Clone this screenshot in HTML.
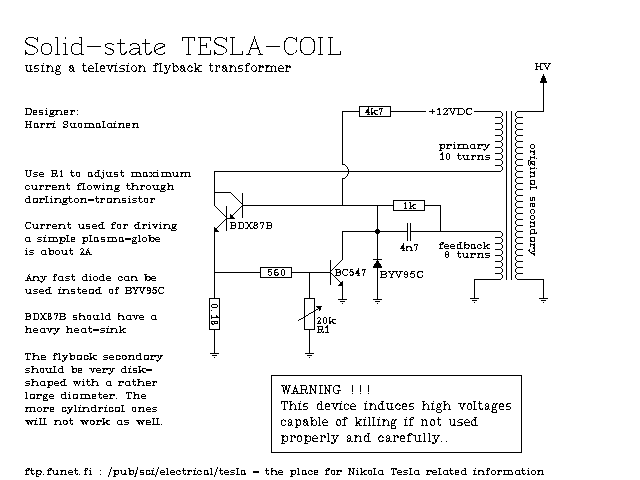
<!DOCTYPE html>
<html lang="en"><head><meta charset="utf-8"><title>Solid-state TESLA-COIL</title>
<style>html,body{margin:0;padding:0;background:#fff;font-family:"Liberation Serif",serif}svg{display:block}.t{fill:#000;fill-opacity:0;stroke:none;font-family:"Liberation Serif",serif}</style>
</head><body>
<svg width="640" height="480" viewBox="0 0 640 480" shape-rendering="crispEdges" font-family="Liberation Serif, serif">
<rect width="640" height="480" fill="#fff"/>
<g fill="none" stroke="#000" stroke-width="1">
<path d="M342.5 111V165M342 111.5H360M359.5 106.5H390.5V116.5H359.5ZM342.5 164.5A6 7 0 0 1 342.5 178.5M342.5 178V206M391 111.5H426M474 111.5H501M501 112.5H502M502.5 113V116M501 116.5H502M501 118.5H502M502.5 119V122M501 122.5H502M495 117.5H501M501 124.5H502M502.5 125V128M501 128.5H502M495 123.5H501M501 130.5H502M502.5 131V134M501 134.5H502M495 129.5H501M501 136.5H502M502.5 137V140M501 140.5H502M495 135.5H501M501 142.5H502M502.5 143V146M501 146.5H502M495 141.5H501M501 148.5H502M502.5 149V152M501 152.5H502M495 147.5H501M501 154.5H502M502.5 155V158M501 158.5H502M495 153.5H501M501 160.5H502M502.5 161V164M501 164.5H502M495 159.5H501M501 166.5H502M502.5 167V170M501 170.5H502M495 165.5H501M501 232.5H502M502.5 233V236M501 236.5H502M501 238.5H502M502.5 239V242M501 242.5H502M495 237.5H501M501 244.5H502M502.5 245V248M501 248.5H502M495 243.5H501M501 250.5H502M502.5 251V254M501 254.5H502M495 249.5H501M501 256.5H502M502.5 257V260M501 260.5H502M495 255.5H501M501 262.5H502M502.5 263V266M501 266.5H502M495 261.5H501M501 268.5H502M502.5 269V272M501 272.5H502M495 267.5H501M501 274.5H502M502.5 275V278M501 278.5H502M495 273.5H501M516 112.5H517M515.5 113V116M516 116.5H517M516 118.5H517M515.5 119V122M516 122.5H517M517 117.5H523M516 124.5H517M515.5 125V128M516 128.5H517M517 123.5H523M516 130.5H517M515.5 131V134M516 134.5H517M517 129.5H523M516 136.5H517M515.5 137V140M516 140.5H517M517 135.5H523M516 142.5H517M515.5 143V146M516 146.5H517M517 141.5H523M516 148.5H517M515.5 149V152M516 152.5H517M517 147.5H523M516 154.5H517M515.5 155V158M516 158.5H517M517 153.5H523M516 160.5H517M515.5 161V164M516 164.5H517M517 159.5H523M516 166.5H517M515.5 167V170M516 170.5H517M517 165.5H523M516 172.5H517M515.5 173V176M516 176.5H517M517 171.5H523M516 178.5H517M515.5 179V182M516 182.5H517M517 177.5H523M516 184.5H517M515.5 185V188M516 188.5H517M517 183.5H523M516 190.5H517M515.5 191V194M516 194.5H517M517 189.5H523M516 196.5H517M515.5 197V200M516 200.5H517M517 195.5H523M516 202.5H517M515.5 203V206M516 206.5H517M517 201.5H523M516 208.5H517M515.5 209V212M516 212.5H517M517 207.5H523M516 214.5H517M515.5 215V218M516 218.5H517M517 213.5H523M516 220.5H517M515.5 221V224M516 224.5H517M517 219.5H523M516 226.5H517M515.5 227V230M516 230.5H517M517 225.5H523M516 232.5H517M515.5 233V236M516 236.5H517M517 231.5H523M516 238.5H517M515.5 239V242M516 242.5H517M517 237.5H523M516 244.5H517M515.5 245V248M516 248.5H517M517 243.5H523M516 250.5H517M515.5 251V254M516 254.5H517M517 249.5H523M516 256.5H517M515.5 257V260M516 260.5H517M517 255.5H523M516 262.5H517M515.5 263V266M516 266.5H517M517 261.5H523M516 268.5H517M515.5 269V272M516 272.5H517M517 267.5H523M516 274.5H517M515.5 275V278M516 278.5H517M517 273.5H523M506.5 111V280M511.5 111V280M214 171.5H501M517 111.5H544M543.5 83V112M543 74.5H544M543 75.5H544M542 76.5H545M542 77.5H545M541 78.5H546M541 79.5H546M541 80.5H546M540 81.5H547M540 82.5H547M517 279.5H544M543.5 279V299M539 298.5H548M541 300.5H546M543 302.5H544M474 279.5H501M474.5 279V299M470 298.5H479M472 300.5H477M474 302.5H475M214.5 171V206M214.5 205.5L226.5 217.5M214 192.5H231M230.5 192.5L242.5 204.5M242.5 193V218M242 205.5H394M242.5 205.5L230.5 217.5M230 214.5H231M230 215.5H232M230 216.5H233M230 217.5H234M230 218.5H235M226 218.5H233M226.5 206V231M226.5 218.5L215.5 229.5M214 227.5H215M214 228.5H216M214 229.5H217M214 230.5H218M214 231.5H219M214.5 229V299M209.5 298.5H219.5V329.5H209.5ZM214.5 329V354M210 353.5H219M212 355.5H217M214 357.5H215M214 272.5H261M260.5 267.5H291.5V277.5H260.5ZM291 272.5H331M309.5 272V299M304.5 298.5H314.5V329.5H304.5ZM309.5 329V354M305 353.5H314M307 355.5H312M309 357.5H310M298.5 320.5L318.5 308.5M316 306.5H322M317 307.5H321M318 308.5H321M319 309.5H321M319 310.5H320M330.5 260V285M330.5 271.5L342.5 259.5M342.5 231V260M330.5 272.5L342.5 284.5M342 281.5H343M341 282.5H343M340 283.5H343M339 284.5H343M338 285.5H343M342.5 285V300M338 299.5H347M340 301.5H345M342 303.5H343M342 231.5H408M407.5 223V241M410.5 223V241M410 231.5H501M393.5 200.5H424.5V210.5H393.5ZM424 205.5H441M440.5 205V232M377.5 205V300M373 299.5H382M375 301.5H380M377 303.5H378M373 259.5H382M377 260.5H378M376 261.5H379M376 262.5H379M375 263.5H380M374 264.5H381M374 265.5H381M373 266.5H382M373 267.5H382M271.5 375.5H521.5V452.5H271.5Z"/>
</g>
<g fill="#000" stroke="none"><path d="M375 230h1v-1h3v1h1v3h-1v1h-3v-1h-1z"/></g>
<g fill="none" stroke="#000" stroke-width="1" stroke-linecap="square" stroke-linejoin="miter">
<g><path d="M37.5 37.5 L37.5 41.5M25.5 50.5 L25.5 54.5M37.5 40.5 L35.5 38.5 L33 37.5 L29.5 37.5 L27 38.5 L25.5 40.5 L25.5 42 L27 43.8 L29.5 45 L33 46.2 L35.5 47.5 L37.5 49.5 L37.5 51.5 L35.5 53.5 L33 54.5 L29.5 54.5 L27 53.5 L25.5 51.5M45 43.5 L48 43.5 L50.5 45 L51.5 47 L51.5 51 L50.5 53 L48 54.5 L45 54.5 L42.5 53 L41.5 51 L41.5 47 L42.5 45 L45 43.5M57.5 37.5 L57.5 54.5M55.5 37.5 L57.5 37.5M55.5 54.5 L59.5 54.5M65.5 37.5 L65.5 38.5M65.5 43.5 L65.5 54.5M63.5 43.5 L65.5 43.5M63.5 54.5 L67.5 54.5M81.5 37.5 L81.5 54.5M79.5 37.5 L81.5 37.5M81.5 54.5 L83.5 54.5M81.5 45.5 L78.5 43.5 L75 43.5 L72.5 45 L71.5 47 L71.5 51 L72.5 53 L75 54.5 L78.5 54.5 L81.5 52.5M87.5 46.5 L100.5 46.5M113.5 44.5 L111 43.5 L108 43.5 L106 44.5 L105.5 46 L106.5 47.5 L109 48.5 L112 49.5 L113.5 51 L113.5 52.5 L111.5 54.5 L108 54.5 L106 53.5 L105.5 52.5M120.5 39.5 L120.5 52.5 L121.5 54 L123 54.5 L124.5 54 L126.5 52M117.5 43.5 L124.5 43.5M130.5 45 L132.5 43.5 L135.5 43.5 L138 44.5 L139.5 46.5 L139.5 54.5 L141.5 54.5M139.5 48 L133 49 L130.5 50.5 L129.5 52.5 L130.5 54 L133 54.5 L135.5 54 L138 52.5 L139.5 50.5M145.5 39.5 L145.5 52.5 L146.5 54 L148 54.5 L149.5 54 L151.5 52M142.5 43.5 L149.5 43.5M155 50.5 L164.8 46 L164.5 44.5 L162 43.5 L158.5 43.5 L156 45 L154.5 47.7 L154.8 51.2 L156.2 53.5 L159 54.5 L162 54.5 L164 53.5 L164.5 53M182.5 37.5 L194.5 37.5M182.5 37.5 L182.5 40.5M194.5 37.5 L194.5 40.5M188.5 37.5 L188.5 54.5M186.5 54.5 L190.5 54.5M200.5 37.5 L200.5 54.5M198.5 37.5 L210.5 37.5M210.5 37.5 L210.5 40.5M200.5 45.5 L206.5 45.5M206.5 43.5 L206.5 47.5M198.5 54.5 L210.5 54.5M210.5 50.5 L210.5 54.5M226.5 37.5 L226.5 41.5M214.5 50.5 L214.5 54.5M226.5 40.5 L224.5 38.5 L222 37.5 L218.5 37.5 L216 38.5 L214.5 40.5 L214.5 42 L216 43.8 L218.5 45 L222 46.2 L224.5 47.5 L226.5 49.5 L226.5 51.5 L224.5 53.5 L222 54.5 L218.5 54.5 L216 53.5 L214.5 51.5M232.5 37.5 L232.5 54.5M230.5 37.5 L234.5 37.5M230.5 54.5 L242.5 54.5M242.5 51.5 L242.5 54.5M248.5 54.5 L254.5 37.5 L260.5 54.5M250.5 48.5 L258.5 48.5M246.5 54.5 L250.5 54.5M258.5 54.5 L262.5 54.5M266.5 46.5 L279.5 46.5M296.5 37.5 L296.5 41.5M296.5 40.5 L294.5 38.5 L292 37.5 L289 37.5 L286.5 39 L284.5 42.5 L284.5 49 L286.5 52.5 L289 54.5 L292 54.5 L294.5 53.5 L296.5 51.5 L296.5 50.5M304.5 37.5 L310.5 37.5 L313.5 40 L314.5 43 L314.5 49 L313.5 52 L310.5 54.5 L304.5 54.5 L301.5 52 L300.5 49 L300.5 43 L301.5 40 L304.5 37.5M320.5 37.5 L320.5 54.5M318.5 37.5 L322.5 37.5M318.5 54.5 L322.5 54.5M330.5 37.5 L330.5 54.5M328.5 37.5 L332.5 37.5M328.5 54.5 L340.5 54.5M340.5 51.5 L340.5 54.5"/><text class="t" lengthAdjust="spacingAndGlyphs" x="25" y="54.5" font-size="27" textLength="316">Solid-state TESLA-COIL</text></g>
<g transform="translate(24.43 71.5)"><path d="M2.23 -5.54 L2.23 -1.85 L2.77 -0.62 L3.84 0 L4.91 0 L5.98 -0.62 L6.51 -1.85M6.51 -5.54 L6.51 0M1.16 -5.54 L2.77 -5.54M5.44 -5.54 L7.05 -5.54M6.51 0 L8.12 0M14.28 -5.54 L11.07 -5.54 L10 -4.62 L10 -3.69 L11.07 -2.77 L13.21 -2.77 L14.28 -1.85 L14.28 -0.92 L13.21 0 L10 0M18.64 -7.69 L18.64 -7.69M18.37 -5.54 L18.37 0M17.3 -5.54 L18.91 -5.54M17.3 0 L19.98 0M23.23 -5.54 L23.23 0M23.77 -3.69 L24.3 -4.92 L25.37 -5.54 L26.44 -5.54 L27.51 -4.92 L28.05 -3.69 L28.05 0M22.16 -5.54 L23.77 -5.54M22.16 0 L24.36 0M26.93 0 L29.12 0M32.84 -5.54 L31.77 -4.31 L31.77 -3.08 L32.84 -1.85 L33.91 -1.85 L34.98 -3.08 L34.98 -4.31 L33.91 -5.54 L32.84 -5.54M34.98 -4.92 L35.51 -5.54 L36.32 -5.54M32.3 -2.15 L31.5 -1.23 L31.77 -0.31 L32.57 0 L34.44 0 L35.51 0.62 L36.05 1.54 L35.78 2.46 L34.71 3.08 L32.3 3.08 L31.23 2.46 L30.96 1.54 L31.5 0.62 L32.57 0M46.3 -5.54 L45.77 -4.92 L45.77 -4.31 L45.23 -4.31 L45.23 -4.92 L46.3 -5.54 L47.91 -5.54 L48.98 -4.31 L48.98 -0.62 L49.51 0 L50.05 0M48.44 -3.69 L46.84 -3.08 L45.77 -2.46 L45.23 -1.85 L45.23 -0.62 L45.77 0 L47.37 0 L47.91 -0.62 L48.44 -1.85M59.34 -8 L59.34 -1.23 L60.41 0 L61.48 0 L62.01 -0.62 L62.01 -1.23M58.27 -5.54 L61.48 -5.54M68.78 -3.08 L64.5 -3.08M68.78 -3.08 L68.78 -4.31 L67.71 -5.54 L65.57 -5.54 L64.5 -4.31 L64.5 -1.23 L65.57 0 L68.78 0M72.37 -8 L72.37 0M71.3 -8 L72.91 -8M71.3 0 L73.98 0M80.28 -3.08 L76 -3.08M80.28 -3.08 L80.28 -4.31 L79.21 -5.54 L77.07 -5.54 L76 -4.31 L76 -1.23 L77.07 0 L80.28 0M83.5 -5.54 L85.64 0M87.78 -5.54 L85.64 0M82.43 -5.54 L84.62 -5.54M87.19 -5.54 L88.85 -5.54M91.64 -7.69 L91.64 -7.69M91.37 -5.54 L91.37 0M90.3 -5.54 L91.91 -5.54M90.3 0 L92.98 0M99.78 -5.54 L96.57 -5.54 L95.5 -4.62 L95.5 -3.69 L96.57 -2.77 L98.71 -2.77 L99.78 -1.85 L99.78 -0.92 L98.71 0 L95.5 0M103.64 -7.69 L103.64 -7.69M103.37 -5.54 L103.37 0M102.3 -5.54 L103.91 -5.54M102.3 0 L104.98 0M108.84 -5.54 L110.44 -5.54 L111.78 -4.18 L111.78 -1.35 L110.44 0 L108.84 0 L107.5 -1.35 L107.5 -4.18 L108.84 -5.54M115.23 -5.54 L115.23 0M115.77 -3.69 L116.3 -4.92 L117.37 -5.54 L118.44 -5.54 L119.51 -4.92 L120.05 -3.69 L120.05 0M114.16 -5.54 L115.77 -5.54M114.16 0 L116.36 0M118.93 0 L121.12 0M132.71 -8 L133.25 -7.38 L133.25 -6.77 L133.78 -6.77 L133.78 -7.38 L132.71 -8 L131.64 -8 L130.57 -6.77 L130.57 0M129.5 -5.54 L132.18 -5.54M129.5 0 L132.18 0M136.37 -8 L136.37 0M135.3 -8 L136.91 -8M135.3 0 L137.98 0M141 -5.54 L143.14 0M145.28 -5.54 L143.14 0 L142.07 1.85 L141 2.46 L140.46 2.46 L139.93 1.85 L139.93 1.23 L140.46 1.23 L140.46 1.85 L139.93 1.85M139.93 -5.54 L142.12 -5.54M144.69 -5.54 L146.35 -5.54M148.77 -8 L148.77 0M149.3 -3.69 L149.84 -4.92 L150.91 -5.54 L151.98 -5.54 L153.05 -4.92 L153.59 -3.69 L153.59 -1.85 L153.05 -0.62 L151.98 0 L150.91 0 L149.84 -0.62 L149.3 -1.85M147.7 -8 L149.3 -8M157.3 -5.54 L156.77 -4.92 L156.77 -4.31 L156.23 -4.31 L156.23 -4.92 L157.3 -5.54 L158.91 -5.54 L159.98 -4.31 L159.98 -0.62 L160.51 0 L161.05 0M159.44 -3.69 L157.84 -3.08 L156.77 -2.46 L156.23 -1.85 L156.23 -0.62 L156.77 0 L158.37 0 L158.91 -0.62 L159.44 -1.85M167.78 -4.31 L167.25 -4.31 L167.25 -3.69 L167.78 -3.69 L167.78 -4.31 L167.25 -4.92 L166.18 -5.54 L165.11 -5.54 L164.03 -4.92 L163.5 -3.69 L163.5 -1.85 L164.03 -0.62 L165.11 0 L166.18 0 L167.25 -0.62 L167.78 -1.23M170.73 -8 L170.73 0M175.55 -5.54 L171.27 -1.85M172.87 -3.08 L175.01 0M169.66 -8 L171.27 -8M173.94 -5.54 L176.62 -5.54M169.66 0 L171.86 0M174.43 0 L176.62 0M185.84 -8 L185.84 -1.23 L186.91 0 L187.98 0 L188.51 -0.62 L188.51 -1.23M184.77 -5.54 L187.98 -5.54M191.8 -5.54 L191.8 0M192.34 -3.69 L192.87 -4.92 L193.94 -5.54 L195.01 -5.54 L195.55 -4.92 L195.55 -4.31 L195.01 -4.31 L195.01 -4.92 L195.55 -4.92M190.73 -5.54 L192.34 -5.54M190.73 0 L193.41 0M199.3 -5.54 L198.77 -4.92 L198.77 -4.31 L198.23 -4.31 L198.23 -4.92 L199.3 -5.54 L200.91 -5.54 L201.98 -4.31 L201.98 -0.62 L202.51 0 L203.05 0M201.44 -3.69 L199.84 -3.08 L198.77 -2.46 L198.23 -1.85 L198.23 -0.62 L198.77 0 L200.37 0 L200.91 -0.62 L201.44 -1.85M206.23 -5.54 L206.23 0M206.77 -3.69 L207.3 -4.92 L208.37 -5.54 L209.44 -5.54 L210.51 -4.92 L211.05 -3.69 L211.05 0M205.16 -5.54 L206.77 -5.54M205.16 0 L207.36 0M209.93 0 L212.12 0M218.28 -5.54 L215.07 -5.54 L214 -4.62 L214 -3.69 L215.07 -2.77 L217.21 -2.77 L218.28 -1.85 L218.28 -0.92 L217.21 0 L214 0M224.21 -8 L224.75 -7.38 L224.75 -6.77 L225.28 -6.77 L225.28 -7.38 L224.21 -8 L223.14 -8 L222.07 -6.77 L222.07 0M221 -5.54 L223.68 -5.54M221 0 L223.68 0M228.84 -5.54 L230.44 -5.54 L231.78 -4.18 L231.78 -1.35 L230.44 0 L228.84 0 L227.5 -1.35 L227.5 -4.18 L228.84 -5.54M235.3 -5.54 L235.3 0M235.84 -3.69 L236.37 -4.92 L237.44 -5.54 L238.51 -5.54 L239.05 -4.92 L239.05 -4.31 L238.51 -4.31 L238.51 -4.92 L239.05 -4.92M234.23 -5.54 L235.84 -5.54M234.23 0 L236.91 0M242.09 -5.54 L242.09 0M242.63 -3.69 L243.16 -4.92 L244.23 -5.54 L245.3 -5.54 L246.37 -4.92 L246.91 -3.69 L246.91 0M246.91 -3.69 L247.44 -4.92 L248.51 -5.54 L249.59 -5.54 L250.66 -4.92 L251.19 -3.69 L251.19 0M241.02 -5.54 L242.63 -5.54M241.02 0 L243.7 0M245.3 0 L247.98 0M249.59 0 L252.26 0M258.78 -3.08 L254.5 -3.08M258.78 -3.08 L258.78 -4.31 L257.71 -5.54 L255.57 -5.54 L254.5 -4.31 L254.5 -1.23 L255.57 0 L258.78 0M262.3 -5.54 L262.3 0M262.84 -3.69 L263.37 -4.92 L264.44 -5.54 L265.51 -5.54 L266.05 -4.92 L266.05 -4.31 L265.51 -4.31 L265.51 -4.92 L266.05 -4.92M261.23 -5.54 L262.84 -5.54M261.23 0 L263.91 0"/><text class="t" lengthAdjust="spacingAndGlyphs" x="1.07" font-size="13.64" textLength="265">using a television flyback transformer</text></g>
<g transform="translate(24.55 114.5)"><path d="M2.12 -6 L2.12 0M1.16 -6 L4.5 -6 L5.93 -5.54 L6.41 -5.08 L6.89 -3.69 L6.89 -2.31 L6.41 -0.92 L5.93 -0.46 L4.5 0 L1.16 0M12.43 -2.31 L8.62 -2.31M12.43 -2.31 L12.43 -3.23 L11.48 -4.15 L9.57 -4.15 L8.62 -3.23 L8.62 -0.92 L9.57 0 L12.43 0M18.43 -4.15 L15.57 -4.15 L14.62 -3.46 L14.62 -2.77 L15.57 -2.08 L17.48 -2.08 L18.43 -1.38 L18.43 -0.69 L17.48 0 L14.62 0M22.02 -5.77 L22.02 -5.77M21.79 -4.15 L21.79 0M20.83 -4.15 L22.26 -4.15M20.83 0 L23.22 0M26.81 -4.15 L25.85 -3.23 L25.85 -2.31 L26.81 -1.38 L27.76 -1.38 L28.72 -2.31 L28.72 -3.23 L27.76 -4.15 L26.81 -4.15M28.72 -3.69 L29.19 -4.15 L29.91 -4.15M26.33 -1.62 L25.62 -0.92 L25.85 -0.23 L26.57 0 L28.24 0 L29.19 0.46 L29.67 1.15 L29.43 1.85 L28.48 2.31 L26.33 2.31 L25.38 1.85 L25.14 1.15 L25.62 0.46 L26.57 0M32.38 -4.15 L32.38 0M32.85 -2.77 L33.33 -3.69 L34.29 -4.15 L35.24 -4.15 L36.19 -3.69 L36.67 -2.77 L36.67 0M31.42 -4.15 L32.85 -4.15M31.42 0 L33.38 0M35.67 0 L37.63 0M43.43 -2.31 L39.62 -2.31M43.43 -2.31 L43.43 -3.23 L42.48 -4.15 L40.57 -4.15 L39.62 -3.23 L39.62 -0.92 L40.57 0 L43.43 0M46.83 -4.15 L46.83 0M47.31 -2.77 L47.79 -3.69 L48.74 -4.15 L49.69 -4.15 L50.17 -3.69 L50.17 -3.23 L49.69 -3.23 L49.69 -3.69 L50.17 -3.69M45.88 -4.15 L47.31 -4.15M45.88 0 L48.26 0M53.02 -3.69 L53.02 -3.69M53.02 -0.46 L53.02 -0.46"/><text class="t" lengthAdjust="spacingAndGlyphs" x="0.95" font-size="10.61" textLength="52">Designer:</text></g>
<g transform="translate(24.56 127.5)"><path d="M1.89 -6 L1.89 0M5.66 -6 L5.66 0M0.95 -6 L2.88 -6M5.14 -6 L7.07 -6M2.36 -3.23 L5.66 -3.23M0.95 0 L2.88 0M5.14 0 L7.07 0M13.42 -4.15 L13.42 0 L14.37 0M13.42 -3.23 L12.48 -4.15 L10.6 -4.15 L9.66 -3.23 L9.66 -0.92 L10.6 0 L12.48 0 L13.42 -0.92M16.83 -4.15 L16.83 0M17.31 -2.77 L17.78 -3.69 L18.72 -4.15 L19.66 -4.15 L20.13 -3.69 L20.13 -3.23 L19.66 -3.23 L19.66 -3.69 L20.13 -3.69M15.89 -4.15 L17.31 -4.15M15.89 0 L18.25 0M23.33 -4.15 L23.33 0M23.81 -2.77 L24.28 -3.69 L25.22 -4.15 L26.16 -4.15 L26.63 -3.69 L26.63 -3.23 L26.16 -3.23 L26.16 -3.69 L26.63 -3.69M22.39 -4.15 L23.81 -4.15M22.39 0 L24.75 0M29.51 -5.77 L29.51 -5.77M29.28 -4.15 L29.28 0M28.33 -4.15 L29.75 -4.15M28.33 0 L30.69 0M42.66 -5.08 L43.13 -6 L43.13 -4.15 L42.66 -5.08 L42.19 -5.54 L41.25 -6 L40.31 -6 L39.36 -5.54 L38.89 -5.08 L38.89 -4.15 L39.36 -3.69 L40.31 -3.23 L41.72 -2.77 L42.66 -2.31 L43.13 -1.85M43.13 -2.31 L43.13 -0.92 L42.66 -0.46 L41.72 0 L40.78 0 L39.83 -0.46 L39.36 -0.92 L38.89 -1.85 L38.89 0 L39.36 -0.92M46.39 -4.15 L46.39 -1.38 L46.86 -0.46 L47.81 0 L48.75 0 L49.69 -0.46 L50.16 -1.38M50.16 -4.15 L50.16 0M45.45 -4.15 L46.86 -4.15M49.22 -4.15 L50.63 -4.15M50.16 0 L51.57 0M54.81 -4.15 L56.22 -4.15 L57.39 -3.14 L57.39 -1.02 L56.22 0 L54.81 0 L53.63 -1.02 L53.63 -3.14 L54.81 -4.15M60.51 -4.15 L60.51 0M60.98 -2.77 L61.45 -3.69 L62.39 -4.15 L63.33 -4.15 L64.28 -3.69 L64.75 -2.77 L64.75 0M64.75 -2.77 L65.22 -3.69 L66.16 -4.15 L67.1 -4.15 L68.04 -3.69 L68.51 -2.77 L68.51 0M59.57 -4.15 L60.98 -4.15M59.57 0 L61.92 0M63.33 0 L65.69 0M67.1 0 L69.46 0M75.42 -4.15 L75.42 0 L76.37 0M75.42 -3.23 L74.48 -4.15 L72.6 -4.15 L71.66 -3.23 L71.66 -0.92 L72.6 0 L74.48 0 L75.42 -0.92M79.28 -6 L79.28 0M78.33 -6 L79.75 -6M78.33 0 L80.69 0M86.92 -4.15 L86.92 0 L87.87 0M86.92 -3.23 L85.98 -4.15 L84.1 -4.15 L83.16 -3.23 L83.16 -0.92 L84.1 0 L85.98 0 L86.92 -0.92M90.51 -5.77 L90.51 -5.77M90.28 -4.15 L90.28 0M89.33 -4.15 L90.75 -4.15M89.33 0 L91.69 0M94.89 -4.15 L94.89 0M95.36 -2.77 L95.83 -3.69 L96.78 -4.15 L97.72 -4.15 L98.66 -3.69 L99.13 -2.77 L99.13 0M93.95 -4.15 L95.36 -4.15M93.95 0 L95.88 0M98.14 0 L100.07 0M105.4 -2.31 L101.63 -2.31M105.4 -2.31 L105.4 -3.23 L104.45 -4.15 L102.57 -4.15 L101.63 -3.23 L101.63 -0.92 L102.57 0 L105.4 0M108.89 -4.15 L108.89 0M109.36 -2.77 L109.83 -3.69 L110.78 -4.15 L111.72 -4.15 L112.66 -3.69 L113.13 -2.77 L113.13 0M107.95 -4.15 L109.36 -4.15M107.95 0 L109.88 0M112.14 0 L114.07 0"/><text class="t" lengthAdjust="spacingAndGlyphs" x="0.94" font-size="10.61" textLength="113">Harri Suomalainen</text></g>
<g transform="translate(24.56 176.5)"><path d="M1.89 -6 L1.89 -1.38 L2.36 -0.46 L3.31 0 L4.72 0 L5.66 -0.46 L6.13 -1.38 L6.13 -6M0.95 -6 L3.31 -6M5.19 -6 L7.08 -6M12.9 -4.15 L10.07 -4.15 L9.13 -3.46 L9.13 -2.77 L10.07 -2.08 L11.96 -2.08 L12.9 -1.38 L12.9 -0.69 L11.96 0 L9.13 0M18.9 -2.31 L15.13 -2.31M18.9 -2.31 L18.9 -3.23 L17.96 -4.15 L16.07 -4.15 L15.13 -3.23 L15.13 -0.92 L16.07 0 L18.9 0M28.13 -6 L28.13 0M27.18 -6 L30.48 -6 L31.9 -5.54 L32.37 -4.62 L32.37 -4.15 L31.9 -3.23 L30.48 -2.77 L28.6 -2.77M27.18 0 L29.54 0M30.48 -2.77 L30.96 -2.31 L31.43 -0.46 L31.9 0 L32.37 0 L32.84 -0.46M35.74 -4.85 L37.01 -6 L37.01 0M35.74 0 L38.29 0M47.31 -6 L47.31 -0.92 L48.25 0 L49.19 0 L49.66 -0.46 L49.66 -0.92M46.36 -4.15 L49.19 -4.15M52.81 -4.15 L54.22 -4.15 L55.4 -3.14 L55.4 -1.02 L54.22 0 L52.81 0 L51.63 -1.02 L51.63 -3.14 L52.81 -4.15M67.43 -4.15 L67.43 0 L68.37 0M67.43 -3.23 L66.48 -4.15 L64.6 -4.15 L63.66 -3.23 L63.66 -0.92 L64.6 0 L66.48 0 L67.43 -0.92M74.19 -6 L74.19 0M73.72 -3.69 L72.78 -4.15 L71.83 -4.15 L70.89 -3.69 L70.42 -2.77 L70.42 -1.38 L70.89 -0.46 L71.83 0 L72.78 0 L73.72 -0.46M73.25 -6 L74.66 -6M74.19 0 L75.61 0M78.96 -5.77 L78.96 -5.77M78.72 -4.15 L78.72 0.92 L78.25 1.85M78.25 1.85 L77.31 1.85 L76.83 1.38 L76.83 0.92 L77.31 0.92 L77.31 1.38 L76.83 1.38M77.78 -4.15 L79.19 -4.15M82.39 -4.15 L82.39 -1.38 L82.86 -0.46 L83.81 0 L84.75 0 L85.69 -0.46 L86.16 -1.38M86.16 -4.15 L86.16 0M81.45 -4.15 L82.86 -4.15M85.22 -4.15 L86.63 -4.15M86.16 0 L87.58 0M93.4 -4.15 L90.57 -4.15 L89.63 -3.46 L89.63 -2.77 L90.57 -2.08 L92.46 -2.08 L93.4 -1.38 L93.4 -0.69 L92.46 0 L89.63 0M96.81 -6 L96.81 -0.92 L97.75 0 L98.69 0 L99.16 -0.46 L99.16 -0.92M95.86 -4.15 L98.69 -4.15M107.51 -4.15 L107.51 0M107.98 -2.77 L108.45 -3.69 L109.39 -4.15 L110.33 -4.15 L111.28 -3.69 L111.75 -2.77 L111.75 0M111.75 -2.77 L112.22 -3.69 L113.16 -4.15 L114.11 -4.15 L115.05 -3.69 L115.52 -2.77 L115.52 0M106.56 -4.15 L107.98 -4.15M106.56 0 L108.92 0M110.33 0 L112.69 0M114.11 0 L116.46 0M122.43 -4.15 L122.43 0 L123.37 0M122.43 -3.23 L121.48 -4.15 L119.6 -4.15 L118.66 -3.23 L118.66 -0.92 L119.6 0 L121.48 0 L122.43 -0.92M126.13 -4.15 L129.43 0M129.9 -4.15 L126.13 0M125.18 -4.15 L127.12 -4.15M129.38 -4.15 L130.84 -4.15M125.18 0 L126.65 0M128.91 0 L130.84 0M133.01 -5.77 L133.01 -5.77M132.78 -4.15 L132.78 0M131.83 -4.15 L133.25 -4.15M131.83 0 L134.19 0M137.51 -4.15 L137.51 0M137.98 -2.77 L138.45 -3.69 L139.39 -4.15 L140.33 -4.15 L141.28 -3.69 L141.75 -2.77 L141.75 0M141.75 -2.77 L142.22 -3.69 L143.16 -4.15 L144.11 -4.15 L145.05 -3.69 L145.52 -2.77 L145.52 0M136.56 -4.15 L137.98 -4.15M136.56 0 L138.92 0M140.33 0 L142.69 0M144.11 0 L146.46 0M148.89 -4.15 L148.89 -1.38 L149.36 -0.46 L150.31 0 L151.25 0 L152.19 -0.46 L152.66 -1.38M152.66 -4.15 L152.66 0M147.95 -4.15 L149.36 -4.15M151.72 -4.15 L153.13 -4.15M152.66 0 L154.08 0M157.01 -4.15 L157.01 0M157.48 -2.77 L157.95 -3.69 L158.89 -4.15 L159.83 -4.15 L160.78 -3.69 L161.25 -2.77 L161.25 0M161.25 -2.77 L161.72 -3.69 L162.66 -4.15 L163.61 -4.15 L164.55 -3.69 L165.02 -2.77 L165.02 0M156.06 -4.15 L157.48 -4.15M156.06 0 L158.42 0M159.83 0 L162.19 0M163.61 0 L165.96 0"/><text class="t" lengthAdjust="spacingAndGlyphs" x="0.94" font-size="10.61" textLength="165">Use R1 to adjust maximum</text></g>
<g transform="translate(24.54 189.5)"><path d="M4.96 -3.23 L4.48 -3.23 L4.48 -2.77 L4.96 -2.77 L4.96 -3.23 L4.48 -3.69 L3.52 -4.15 L2.55 -4.15 L1.59 -3.69 L1.11 -2.77 L1.11 -1.38 L1.59 -0.46 L2.55 0 L3.52 0 L4.48 -0.46 L4.96 -0.92M7.86 -4.15 L7.86 -1.38 L8.35 -0.46 L9.31 0 L10.28 0 L11.24 -0.46 L11.72 -1.38M11.72 -4.15 L11.72 0M6.9 -4.15 L8.35 -4.15M10.76 -4.15 L12.2 -4.15M11.72 0 L13.17 0M15.83 -4.15 L15.83 0M16.31 -2.77 L16.79 -3.69 L17.76 -4.15 L18.72 -4.15 L19.2 -3.69 L19.2 -3.23 L18.72 -3.23 L18.72 -3.69 L19.2 -3.69M14.86 -4.15 L16.31 -4.15M14.86 0 L17.28 0M22.33 -4.15 L22.33 0M22.81 -2.77 L23.29 -3.69 L24.26 -4.15 L25.22 -4.15 L25.7 -3.69 L25.7 -3.23 L25.22 -3.23 L25.22 -3.69 L25.7 -3.69M21.36 -4.15 L22.81 -4.15M21.36 0 L23.78 0M31.46 -2.31 L27.61 -2.31M31.46 -2.31 L31.46 -3.23 L30.5 -4.15 L28.57 -4.15 L27.61 -3.23 L27.61 -0.92 L28.57 0 L31.46 0M34.86 -4.15 L34.86 0M35.35 -2.77 L35.83 -3.69 L36.79 -4.15 L37.76 -4.15 L38.72 -3.69 L39.2 -2.77 L39.2 0M33.9 -4.15 L35.35 -4.15M33.9 0 L35.88 0M38.19 0 L40.17 0M42.81 -6 L42.81 -0.92 L43.78 0 L44.74 0 L45.22 -0.46 L45.22 -0.92M41.85 -4.15 L44.74 -4.15M56 -6 L56.48 -5.54 L56.48 -5.08 L56.96 -5.08 L56.96 -5.54 L56 -6 L55.03 -6 L54.07 -5.08 L54.07 0M53.11 -4.15 L55.52 -4.15M53.11 0 L55.52 0M59.29 -6 L59.29 0M58.33 -6 L59.78 -6M58.33 0 L60.74 0M64.31 -4.15 L65.76 -4.15 L66.96 -3.14 L66.96 -1.02 L65.76 0 L64.31 0 L63.11 -1.02 L63.11 -3.14 L64.31 -4.15M69.64 -4.15 L71.09 0M72.53 -4.15 L71.09 0M72.53 -4.15 L73.98 0M75.43 -4.15 L73.98 0M68.68 -4.15 L71.09 -4.15M74.46 -4.15 L76.39 -4.15M79.03 -5.77 L79.03 -5.77M78.79 -4.15 L78.79 0M77.83 -4.15 L79.28 -4.15M77.83 0 L80.24 0M82.86 -4.15 L82.86 0M83.35 -2.77 L83.83 -3.69 L84.79 -4.15 L85.76 -4.15 L86.72 -3.69 L87.2 -2.77 L87.2 0M81.9 -4.15 L83.35 -4.15M81.9 0 L83.88 0M86.19 0 L88.17 0M91.81 -4.15 L90.85 -3.23 L90.85 -2.31 L91.81 -1.38 L92.78 -1.38 L93.74 -2.31 L93.74 -3.23 L92.78 -4.15 L91.81 -4.15M93.74 -3.69 L94.22 -4.15 L94.94 -4.15M91.33 -1.62 L90.61 -0.92 L90.85 -0.23 L91.57 0 L93.26 0 L94.22 0.46 L94.7 1.15 L94.46 1.85 L93.5 2.31 L91.33 2.31 L90.36 1.85 L90.12 1.15 L90.61 0.46 L91.57 0M103.31 -6 L103.31 -0.92 L104.28 0 L105.24 0 L105.72 -0.46 L105.72 -0.92M102.35 -4.15 L105.24 -4.15M108.36 -6 L108.36 0M108.85 -2.77 L109.33 -3.69 L110.29 -4.15 L111.26 -4.15 L112.22 -3.69 L112.7 -2.77 L112.7 0M107.4 -6 L108.85 -6M107.4 0 L109.38 0M111.69 0 L113.67 0M116.83 -4.15 L116.83 0M117.31 -2.77 L117.79 -3.69 L118.76 -4.15 L119.72 -4.15 L120.2 -3.69 L120.2 -3.23 L119.72 -3.23 L119.72 -3.69 L120.2 -3.69M115.86 -4.15 L117.31 -4.15M115.86 0 L118.28 0M123.31 -4.15 L124.76 -4.15 L125.96 -3.14 L125.96 -1.02 L124.76 0 L123.31 0 L122.11 -1.02 L122.11 -3.14 L123.31 -4.15M129.36 -4.15 L129.36 -1.38 L129.85 -0.46 L130.81 0 L131.78 0 L132.74 -0.46 L133.22 -1.38M133.22 -4.15 L133.22 0M128.4 -4.15 L129.85 -4.15M132.26 -4.15 L133.7 -4.15M133.22 0 L134.67 0M137.81 -4.15 L136.85 -3.23 L136.85 -2.31 L137.81 -1.38 L138.78 -1.38 L139.74 -2.31 L139.74 -3.23 L138.78 -4.15 L137.81 -4.15M139.74 -3.69 L140.22 -4.15 L140.94 -4.15M137.33 -1.62 L136.61 -0.92 L136.85 -0.23 L137.57 0 L139.26 0 L140.22 0.46 L140.7 1.15 L140.46 1.85 L139.5 2.31 L137.33 2.31 L136.36 1.85 L136.12 1.15 L136.61 0.46 L137.57 0M143.86 -6 L143.86 0M144.35 -2.77 L144.83 -3.69 L145.79 -4.15 L146.76 -4.15 L147.72 -3.69 L148.2 -2.77 L148.2 0M142.9 -6 L144.35 -6M142.9 0 L144.88 0M147.19 0 L149.17 0"/><text class="t" lengthAdjust="spacingAndGlyphs" x="0.96" font-size="10.61" textLength="148">current flowing through</text></g>
<g transform="translate(24.54 202.5)"><path d="M4.72 -6 L4.72 0M4.24 -3.69 L3.29 -4.15 L2.33 -4.15 L1.38 -3.69 L0.9 -2.77 L0.9 -1.38 L1.38 -0.46 L2.33 0 L3.29 0 L4.24 -0.46M3.76 -6 L5.2 -6M4.72 0 L6.15 0M12.46 -4.15 L12.46 0 L13.41 0M12.46 -3.23 L11.5 -4.15 L9.59 -4.15 L8.64 -3.23 L8.64 -0.92 L9.59 0 L11.5 0 L12.46 -0.92M16.33 -4.15 L16.33 0M16.81 -2.77 L17.29 -3.69 L18.24 -4.15 L19.2 -4.15 L19.68 -3.69 L19.68 -3.23 L19.2 -3.23 L19.2 -3.69 L19.68 -3.69M15.38 -4.15 L16.81 -4.15M15.38 0 L17.76 0M22.29 -6 L22.29 0M21.33 -6 L22.76 -6M21.33 0 L23.72 0M27.03 -5.77 L27.03 -5.77M26.79 -4.15 L26.79 0M25.83 -4.15 L27.26 -4.15M25.83 0 L28.22 0M31.38 -4.15 L31.38 0M31.85 -2.77 L32.33 -3.69 L33.29 -4.15 L34.24 -4.15 L35.2 -3.69 L35.68 -2.77 L35.68 0M30.42 -4.15 L31.85 -4.15M30.42 0 L32.38 0M34.67 0 L36.63 0M39.81 -4.15 L38.85 -3.23 L38.85 -2.31 L39.81 -1.38 L40.76 -1.38 L41.72 -2.31 L41.72 -3.23 L40.76 -4.15 L39.81 -4.15M41.72 -3.69 L42.2 -4.15 L42.91 -4.15M39.33 -1.62 L38.61 -0.92 L38.85 -0.23 L39.57 0 L41.24 0 L42.2 0.46 L42.68 1.15 L42.44 1.85 L41.48 2.31 L39.33 2.31 L38.38 1.85 L38.14 1.15 L38.61 0.46 L39.57 0M45.31 -6 L45.31 -0.92 L46.26 0 L47.22 0 L47.7 -0.46 L47.7 -0.92M44.35 -4.15 L47.22 -4.15M51.31 -4.15 L52.74 -4.15 L53.94 -3.14 L53.94 -1.02 L52.74 0 L51.31 0 L50.11 -1.02 L50.11 -3.14 L51.31 -4.15M56.88 -4.15 L56.88 0M57.35 -2.77 L57.83 -3.69 L58.79 -4.15 L59.74 -4.15 L60.7 -3.69 L61.18 -2.77 L61.18 0M55.92 -4.15 L57.35 -4.15M55.92 0 L57.88 0M60.17 0 L62.13 0M64.14 -3 L68.91 -3M64.14 -2 L68.91 -2M71.81 -6 L71.81 -0.92 L72.76 0 L73.72 0 L74.2 -0.46 L74.2 -0.92M70.85 -4.15 L73.72 -4.15M76.83 -4.15 L76.83 0M77.31 -2.77 L77.79 -3.69 L78.74 -4.15 L79.7 -4.15 L80.18 -3.69 L80.18 -3.23 L79.7 -3.23 L79.7 -3.69 L80.18 -3.69M75.88 -4.15 L77.31 -4.15M75.88 0 L78.26 0M86.46 -4.15 L86.46 0 L87.41 0M86.46 -3.23 L85.5 -4.15 L83.59 -4.15 L82.64 -3.23 L82.64 -0.92 L83.59 0 L85.5 0 L86.46 -0.92M90.38 -4.15 L90.38 0M90.85 -2.77 L91.33 -3.69 L92.29 -4.15 L93.24 -4.15 L94.2 -3.69 L94.68 -2.77 L94.68 0M89.42 -4.15 L90.85 -4.15M89.42 0 L91.38 0M93.67 0 L95.63 0M101.44 -4.15 L98.57 -4.15 L97.61 -3.46 L97.61 -2.77 L98.57 -2.08 L100.48 -2.08 L101.44 -1.38 L101.44 -0.69 L100.48 0 L97.61 0M105.03 -5.77 L105.03 -5.77M104.79 -4.15 L104.79 0M103.83 -4.15 L105.26 -4.15M103.83 0 L106.22 0M111.94 -4.15 L109.07 -4.15 L108.11 -3.46 L108.11 -2.77 L109.07 -2.08 L110.98 -2.08 L111.94 -1.38 L111.94 -0.69 L110.98 0 L108.11 0M115.31 -6 L115.31 -0.92 L116.26 0 L117.22 0 L117.7 -0.46 L117.7 -0.92M114.35 -4.15 L117.22 -4.15M120.81 -4.15 L122.24 -4.15 L123.44 -3.14 L123.44 -1.02 L122.24 0 L120.81 0 L119.61 -1.02 L119.61 -3.14 L120.81 -4.15M126.83 -4.15 L126.83 0M127.31 -2.77 L127.79 -3.69 L128.74 -4.15 L129.7 -4.15 L130.18 -3.69 L130.18 -3.23 L129.7 -3.23 L129.7 -3.69 L130.18 -3.69M125.88 -4.15 L127.31 -4.15M125.88 0 L128.26 0"/><text class="t" lengthAdjust="spacingAndGlyphs" x="0.96" font-size="10.61" textLength="129">darlington-transistor</text></g>
<g transform="translate(24.54 228.5)"><path d="M5.44 -5.54 L5.92 -6 L5.92 -4.15 L5.44 -5.54 L4.48 -6 L3.05 -6 L2.09 -5.54 L1.61 -5.08 L1.13 -3.69 L1.13 -2.31 L1.61 -0.92 L2.09 -0.46 L3.05 0 L4.48 0 L5.44 -0.46 L5.92 -1.38M8.87 -4.15 L8.87 -1.38 L9.35 -0.46 L10.31 0 L11.27 0 L12.22 -0.46 L12.7 -1.38M12.7 -4.15 L12.7 0M7.92 -4.15 L9.35 -4.15M11.75 -4.15 L13.18 -4.15M12.7 0 L14.14 0M16.83 -4.15 L16.83 0M17.31 -2.77 L17.79 -3.69 L18.75 -4.15 L19.7 -4.15 L20.18 -3.69 L20.18 -3.23 L19.7 -3.23 L19.7 -3.69 L20.18 -3.69M15.87 -4.15 L17.31 -4.15M15.87 0 L18.27 0M22.83 -4.15 L22.83 0M23.31 -2.77 L23.79 -3.69 L24.75 -4.15 L25.7 -4.15 L26.18 -3.69 L26.18 -3.23 L25.7 -3.23 L25.7 -3.69 L26.18 -3.69M21.87 -4.15 L23.31 -4.15M21.87 0 L24.27 0M31.94 -2.31 L28.11 -2.31M31.94 -2.31 L31.94 -3.23 L30.98 -4.15 L29.07 -4.15 L28.11 -3.23 L28.11 -0.92 L29.07 0 L31.94 0M35.37 -4.15 L35.37 0M35.85 -2.77 L36.33 -3.69 L37.29 -4.15 L38.25 -4.15 L39.2 -3.69 L39.68 -2.77 L39.68 0M34.42 -4.15 L35.85 -4.15M34.42 0 L36.38 0M38.68 0 L40.64 0M43.81 -6 L43.81 -0.92 L44.77 0 L45.72 0 L46.2 -0.46 L46.2 -0.92M42.85 -4.15 L45.72 -4.15M54.87 -4.15 L54.87 -1.38 L55.35 -0.46 L56.31 0 L57.27 0 L58.22 -0.46 L58.7 -1.38M58.7 -4.15 L58.7 0M53.92 -4.15 L55.35 -4.15M57.75 -4.15 L59.18 -4.15M58.7 0 L60.14 0M65.44 -4.15 L62.57 -4.15 L61.61 -3.46 L61.61 -2.77 L62.57 -2.08 L64.48 -2.08 L65.44 -1.38 L65.44 -0.69 L64.48 0 L61.61 0M71.94 -2.31 L68.11 -2.31M71.94 -2.31 L71.94 -3.23 L70.98 -4.15 L69.07 -4.15 L68.11 -3.23 L68.11 -0.92 L69.07 0 L71.94 0M78.22 -6 L78.22 0M77.75 -3.69 L76.79 -4.15 L75.83 -4.15 L74.87 -3.69 L74.39 -2.77 L74.39 -1.38 L74.87 -0.46 L75.83 0 L76.79 0 L77.75 -0.46M77.27 -6 L78.7 -6M78.22 0 L79.66 0M89.98 -6 L90.46 -5.54 L90.46 -5.08 L90.94 -5.08 L90.94 -5.54 L89.98 -6 L89.03 -6 L88.07 -5.08 L88.07 0M87.11 -4.15 L89.51 -4.15M87.11 0 L89.51 0M93.81 -4.15 L95.25 -4.15 L96.44 -3.14 L96.44 -1.02 L95.25 0 L93.81 0 L92.61 -1.02 L92.61 -3.14 L93.81 -4.15M99.83 -4.15 L99.83 0M100.31 -2.77 L100.79 -3.69 L101.75 -4.15 L102.7 -4.15 L103.18 -3.69 L103.18 -3.23 L102.7 -3.23 L102.7 -3.69 L103.18 -3.69M98.87 -4.15 L100.31 -4.15M98.87 0 L101.27 0M114.22 -6 L114.22 0M113.75 -3.69 L112.79 -4.15 L111.83 -4.15 L110.87 -3.69 L110.39 -2.77 L110.39 -1.38 L110.87 -0.46 L111.83 0 L112.79 0 L113.75 -0.46M113.27 -6 L114.7 -6M114.22 0 L115.66 0M118.83 -4.15 L118.83 0M119.31 -2.77 L119.79 -3.69 L120.75 -4.15 L121.7 -4.15 L122.18 -3.69 L122.18 -3.23 L121.7 -3.23 L121.7 -3.69 L122.18 -3.69M117.87 -4.15 L119.31 -4.15M117.87 0 L120.27 0M125.03 -5.77 L125.03 -5.77M124.79 -4.15 L124.79 0M123.83 -4.15 L125.27 -4.15M123.83 0 L126.22 0M128.61 -4.15 L130.53 0M132.44 -4.15 L130.53 0M127.66 -4.15 L129.62 -4.15M131.92 -4.15 L133.4 -4.15M136.03 -5.77 L136.03 -5.77M135.79 -4.15 L135.79 0M134.83 -4.15 L136.27 -4.15M134.83 0 L137.22 0M140.37 -4.15 L140.37 0M140.85 -2.77 L141.33 -3.69 L142.29 -4.15 L143.25 -4.15 L144.2 -3.69 L144.68 -2.77 L144.68 0M139.42 -4.15 L140.85 -4.15M139.42 0 L141.38 0M143.68 0 L145.64 0M148.81 -4.15 L147.85 -3.23 L147.85 -2.31 L148.81 -1.38 L149.77 -1.38 L150.72 -2.31 L150.72 -3.23 L149.77 -4.15 L148.81 -4.15M150.72 -3.69 L151.2 -4.15 L151.92 -4.15M148.33 -1.62 L147.61 -0.92 L147.85 -0.23 L148.57 0 L150.25 0 L151.2 0.46 L151.68 1.15 L151.44 1.85 L150.48 2.31 L148.33 2.31 L147.37 1.85 L147.13 1.15 L147.61 0.46 L148.57 0"/><text class="t" lengthAdjust="spacingAndGlyphs" x="0.96" font-size="10.61" textLength="151">Current used for driving</text></g>
<g transform="translate(24.09 241.5)"><path d="M5.38 -4.15 L5.38 0 L6.32 0M5.38 -3.23 L4.44 -4.15 L2.57 -4.15 L1.63 -3.23 L1.63 -0.92 L2.57 0 L4.44 0 L5.38 -0.92M17.35 -4.15 L14.54 -4.15 L13.6 -3.46 L13.6 -2.77 L14.54 -2.08 L16.41 -2.08 L17.35 -1.38 L17.35 -0.69 L16.41 0 L13.6 0M20.98 -5.77 L20.98 -5.77M20.74 -4.15 L20.74 0M19.8 -4.15 L21.21 -4.15M19.8 0 L22.15 0M24.99 -4.15 L24.99 0M25.46 -2.77 L25.93 -3.69 L26.87 -4.15 L27.8 -4.15 L28.74 -3.69 L29.21 -2.77 L29.21 0M29.21 -2.77 L29.68 -3.69 L30.62 -4.15 L31.55 -4.15 L32.49 -3.69 L32.96 -2.77 L32.96 0M24.06 -4.15 L25.46 -4.15M24.06 0 L26.4 0M27.8 0 L30.15 0M31.55 0 L33.9 0M36.84 -4.15 L36.84 1.85M37.3 -2.77 L37.77 -3.69 L38.71 -4.15 L39.65 -4.15 L40.58 -3.69 L41.05 -2.77 L41.05 -1.38 L40.58 -0.46 L39.65 0 L38.71 0 L37.77 -0.46 L37.3 -1.38M35.9 -4.15 L37.3 -4.15M35.9 1.85 L38.24 1.85M43.74 -6 L43.74 0M42.8 -6 L44.21 -6M42.8 0 L45.15 0M50.85 -2.31 L47.1 -2.31M50.85 -2.31 L50.85 -3.23 L49.91 -4.15 L48.04 -4.15 L47.1 -3.23 L47.1 -0.92 L48.04 0 L50.85 0M59.34 -4.15 L59.34 1.85M59.8 -2.77 L60.27 -3.69 L61.21 -4.15 L62.15 -4.15 L63.08 -3.69 L63.55 -2.77 L63.55 -1.38 L63.08 -0.46 L62.15 0 L61.21 0 L60.27 -0.46 L59.8 -1.38M58.4 -4.15 L59.8 -4.15M58.4 1.85 L60.74 1.85M66.74 -6 L66.74 0M65.8 -6 L67.21 -6M65.8 0 L68.15 0M73.88 -4.15 L73.88 0 L74.82 0M73.88 -3.23 L72.94 -4.15 L71.07 -4.15 L70.13 -3.23 L70.13 -0.92 L71.07 0 L72.94 0 L73.88 -0.92M80.85 -4.15 L78.04 -4.15 L77.1 -3.46 L77.1 -2.77 L78.04 -2.08 L79.91 -2.08 L80.85 -1.38 L80.85 -0.69 L79.91 0 L77.1 0M83.99 -4.15 L83.99 0M84.46 -2.77 L84.93 -3.69 L85.87 -4.15 L86.8 -4.15 L87.74 -3.69 L88.21 -2.77 L88.21 0M88.21 -2.77 L88.68 -3.69 L89.62 -4.15 L90.55 -4.15 L91.49 -3.69 L91.96 -2.77 L91.96 0M83.06 -4.15 L84.46 -4.15M83.06 0 L85.4 0M86.8 0 L89.15 0M90.55 0 L92.9 0M98.88 -4.15 L98.88 0 L99.82 0M98.88 -3.23 L97.94 -4.15 L96.07 -4.15 L95.13 -3.23 L95.13 -0.92 L96.07 0 L97.94 0 L98.88 -0.92M101.63 -3 L106.32 -3M101.63 -2 L106.32 -2M109.77 -4.15 L108.84 -3.23 L108.84 -2.31 L109.77 -1.38 L110.71 -1.38 L111.65 -2.31 L111.65 -3.23 L110.71 -4.15 L109.77 -4.15M111.65 -3.69 L112.12 -4.15 L112.82 -4.15M109.3 -1.62 L108.6 -0.92 L108.84 -0.23 L109.54 0 L111.18 0 L112.12 0.46 L112.58 1.15 L112.35 1.85 L111.41 2.31 L109.3 2.31 L108.37 1.85 L108.13 1.15 L108.6 0.46 L109.54 0M115.24 -6 L115.24 0M114.3 -6 L115.71 -6M114.3 0 L116.65 0M119.77 -4.15 L121.18 -4.15 L122.35 -3.14 L122.35 -1.02 L121.18 0 L119.77 0 L118.6 -1.02 L118.6 -3.14 L119.77 -4.15M125.84 -6 L125.84 0M126.3 -2.77 L126.77 -3.69 L127.71 -4.15 L128.65 -4.15 L129.58 -3.69 L130.05 -2.77 L130.05 -1.38 L129.58 -0.46 L128.65 0 L127.71 0 L126.77 -0.46 L126.3 -1.38M124.9 -6 L126.3 -6M135.35 -2.31 L131.6 -2.31M135.35 -2.31 L135.35 -3.23 L134.41 -4.15 L132.54 -4.15 L131.6 -3.23 L131.6 -0.92 L132.54 0 L135.35 0"/><text class="t" lengthAdjust="spacingAndGlyphs" x="1.41" font-size="10.61" textLength="134">a simple plasma-globe</text></g>
<g transform="translate(24.57 254.5)"><path d="M2 -5.77 L2 -5.77M1.77 -4.15 L1.77 0M0.84 -4.15 L2.23 -4.15M0.84 0 L3.16 0M8.86 -4.15 L6.07 -4.15 L5.14 -3.46 L5.14 -2.77 L6.07 -2.08 L7.93 -2.08 L8.86 -1.38 L8.86 -0.69 L7.93 0 L5.14 0M20.89 -4.15 L20.89 0 L21.82 0M20.89 -3.23 L19.96 -4.15 L18.11 -4.15 L17.18 -3.23 L17.18 -0.92 L18.11 0 L19.96 0 L20.89 -0.92M24.87 -6 L24.87 0M25.34 -2.77 L25.8 -3.69 L26.73 -4.15 L27.66 -4.15 L28.59 -3.69 L29.06 -2.77 L29.06 -1.38 L28.59 -0.46 L27.66 0 L26.73 0 L25.8 -0.46 L25.34 -1.38M23.94 -6 L25.34 -6M32.3 -4.15 L33.7 -4.15 L34.86 -3.14 L34.86 -1.02 L33.7 0 L32.3 0 L31.14 -1.02 L31.14 -3.14 L32.3 -4.15M37.91 -4.15 L37.91 -1.38 L38.37 -0.46 L39.3 0 L40.23 0 L41.16 -0.46 L41.63 -1.38M41.63 -4.15 L41.63 0M36.98 -4.15 L38.37 -4.15M40.7 -4.15 L42.09 -4.15M41.63 0 L43.02 0M45.8 -6 L45.8 -0.92 L46.73 0 L47.66 0 L48.13 -0.46 L48.13 -0.92M44.87 -4.15 L47.66 -4.15M55.92 -4.89 L55.92 -5.17 L56.8 -6 L58.1 -6 L58.99 -5.17 L58.99 -4.25 L55.92 0 L59.08 0 L59.08 -0.74M63.5 -6 L61.18 0M63.5 -4.62 L65.36 0M62.11 -1.85 L64.43 -1.85M60.25 0 L62.57 0M64.43 0 L66.75 0"/><text class="t" lengthAdjust="spacingAndGlyphs" x="0.93" font-size="10.61" textLength="66">is about 2A</text></g>
<g transform="translate(25.5 280.5)"><path d="M3.57 -6 L1.22 0M3.57 -4.62 L5.45 0M2.16 -1.85 L4.51 -1.85M0.28 0 L2.63 0M4.51 0 L6.86 0M8.46 -4.15 L8.46 0M8.93 -2.77 L9.4 -3.69 L10.34 -4.15 L11.27 -4.15 L12.21 -3.69 L12.68 -2.77 L12.68 0M7.52 -4.15 L8.93 -4.15M7.52 0 L9.44 0M11.7 0 L13.62 0M16.19 -4.15 L18.07 0M19.95 -4.15 L18.07 0 L17.13 1.38 L16.19 1.85 L15.72 1.85 L15.25 1.38 L15.25 0.92 L15.72 0.92 L15.72 1.38 L15.25 1.38M15.25 -4.15 L17.18 -4.15M19.43 -4.15 L20.89 -4.15M30.51 -6 L30.98 -5.54 L30.98 -5.08 L31.45 -5.08 L31.45 -5.54 L30.51 -6 L29.57 -6 L28.63 -5.08 L28.63 0M27.69 -4.15 L30.04 -4.15M27.69 0 L30.04 0M36.98 -4.15 L36.98 0 L37.92 0M36.98 -3.23 L36.04 -4.15 L34.16 -4.15 L33.22 -3.23 L33.22 -0.92 L34.16 0 L36.04 0 L36.98 -0.92M43.95 -4.15 L41.13 -4.15 L40.19 -3.46 L40.19 -2.77 L41.13 -2.08 L43.01 -2.08 L43.95 -1.38 L43.95 -0.69 L43.01 0 L40.19 0M46.87 -6 L46.87 -0.92 L47.8 0 L48.74 0 L49.21 -0.46 L49.21 -0.92M45.93 -4.15 L48.74 -4.15M60.74 -6 L60.74 0M60.27 -3.69 L59.34 -4.15 L58.4 -4.15 L57.46 -3.69 L56.99 -2.77 L56.99 -1.38 L57.46 -0.46 L58.4 0 L59.34 0 L60.27 -0.46M59.8 -6 L61.21 -6M60.74 0 L62.15 0M65.07 -5.77 L65.07 -5.77M64.84 -4.15 L64.84 0M63.9 -4.15 L65.3 -4.15M63.9 0 L66.24 0M69.37 -4.15 L70.77 -4.15 L71.95 -3.14 L71.95 -1.02 L70.77 0 L69.37 0 L68.19 -1.02 L68.19 -3.14 L69.37 -4.15M77.74 -6 L77.74 0M77.27 -3.69 L76.34 -4.15 L75.4 -4.15 L74.46 -3.69 L73.99 -2.77 L73.99 -1.38 L74.46 -0.46 L75.4 0 L76.34 0 L77.27 -0.46M76.8 -6 L78.21 -6M77.74 0 L79.15 0M84.95 -2.31 L81.19 -2.31M84.95 -2.31 L84.95 -3.23 L84.01 -4.15 L82.13 -4.15 L81.19 -3.23 L81.19 -0.92 L82.13 0 L84.95 0M96.95 -3.23 L96.48 -3.23 L96.48 -2.77 L96.95 -2.77 L96.95 -3.23 L96.48 -3.69 L95.54 -4.15 L94.6 -4.15 L93.66 -3.69 L93.19 -2.77 L93.19 -1.38 L93.66 -0.46 L94.6 0 L95.54 0 L96.48 -0.46 L96.95 -0.92M102.98 -4.15 L102.98 0 L103.92 0M102.98 -3.23 L102.04 -4.15 L100.16 -4.15 L99.22 -3.23 L99.22 -0.92 L100.16 0 L102.04 0 L102.98 -0.92M106.46 -4.15 L106.46 0M106.93 -2.77 L107.4 -3.69 L108.34 -4.15 L109.27 -4.15 L110.21 -3.69 L110.68 -2.77 L110.68 0M105.52 -4.15 L106.93 -4.15M105.52 0 L107.44 0M109.7 0 L111.62 0M120.43 -6 L120.43 0M120.9 -2.77 L121.37 -3.69 L122.3 -4.15 L123.24 -4.15 L124.18 -3.69 L124.65 -2.77 L124.65 -1.38 L124.18 -0.46 L123.24 0 L122.3 0 L121.37 -0.46 L120.9 -1.38M119.49 -6 L120.9 -6M129.95 -2.31 L126.19 -2.31M129.95 -2.31 L129.95 -3.23 L129.01 -4.15 L127.13 -4.15 L126.19 -3.23 L126.19 -0.92 L127.13 0 L129.95 0"/><text class="t" lengthAdjust="spacingAndGlyphs" x="0" font-size="10.61" textLength="130">Any fast diode can be</text></g>
<g transform="translate(24.55 293.5)"><path d="M1.88 -4.15 L1.88 -1.38 L2.36 -0.46 L3.31 0 L4.26 0 L5.21 -0.46 L5.69 -1.38M5.69 -4.15 L5.69 0M0.93 -4.15 L2.36 -4.15M4.74 -4.15 L6.16 -4.15M5.69 0 L7.11 0M12.93 -4.15 L10.07 -4.15 L9.12 -3.46 L9.12 -2.77 L10.07 -2.08 L11.97 -2.08 L12.93 -1.38 L12.93 -0.69 L11.97 0 L9.12 0M18.93 -2.31 L15.12 -2.31M18.93 -2.31 L18.93 -3.23 L17.97 -4.15 L16.07 -4.15 L15.12 -3.23 L15.12 -0.92 L16.07 0 L18.93 0M25.21 -6 L25.21 0M24.74 -3.69 L23.78 -4.15 L22.83 -4.15 L21.88 -3.69 L21.4 -2.77 L21.4 -1.38 L21.88 -0.46 L22.83 0 L23.78 0 L24.74 -0.46M24.26 -6 L25.69 -6M25.21 0 L26.64 0M35.52 -5.77 L35.52 -5.77M35.28 -4.15 L35.28 0M34.33 -4.15 L35.76 -4.15M34.33 0 L36.71 0M39.38 -4.15 L39.38 0M39.86 -2.77 L40.33 -3.69 L41.28 -4.15 L42.24 -4.15 L43.19 -3.69 L43.66 -2.77 L43.66 0M38.43 -4.15 L39.86 -4.15M38.43 0 L40.38 0M42.66 0 L44.61 0M50.43 -4.15 L47.57 -4.15 L46.62 -3.46 L46.62 -2.77 L47.57 -2.08 L49.47 -2.08 L50.43 -1.38 L50.43 -0.69 L49.47 0 L46.62 0M53.81 -6 L53.81 -0.92 L54.76 0 L55.71 0 L56.19 -0.46 L56.19 -0.92M52.86 -4.15 L55.71 -4.15M61.93 -2.31 L58.12 -2.31M61.93 -2.31 L61.93 -3.23 L60.97 -4.15 L59.07 -4.15 L58.12 -3.23 L58.12 -0.92 L59.07 0 L61.93 0M68.45 -4.15 L68.45 0 L69.4 0M68.45 -3.23 L67.5 -4.15 L65.59 -4.15 L64.64 -3.23 L64.64 -0.92 L65.59 0 L67.5 0 L68.45 -0.92M75.21 -6 L75.21 0M74.74 -3.69 L73.78 -4.15 L72.83 -4.15 L71.88 -3.69 L71.4 -2.77 L71.4 -1.38 L71.88 -0.46 L72.83 0 L73.78 0 L74.74 -0.46M74.26 -6 L75.69 -6M75.21 0 L76.64 0M85.81 -4.15 L87.24 -4.15 L88.43 -3.14 L88.43 -1.02 L87.24 0 L85.81 0 L84.62 -1.02 L84.62 -3.14 L85.81 -4.15M93.47 -6 L93.95 -5.54 L93.95 -5.08 L94.43 -5.08 L94.43 -5.54 L93.47 -6 L92.52 -6 L91.57 -5.08 L91.57 0M90.62 -4.15 L93 -4.15M90.62 0 L93 0M102.36 -6 L102.36 0M101.4 -6 L104.74 -6 L106.16 -5.54 L106.64 -4.62 L106.16 -3.69 L104.74 -3.23M102.83 -3.23 L104.74 -3.23 L106.16 -2.77 L106.64 -1.85 L106.64 -1.38 L106.16 -0.46 L104.74 0 L101.4 0M108.88 -6 L110.78 -2.77 L110.78 0M113.16 -6 L111.26 -2.77M107.93 -6 L109.88 -6M112.16 -6 L114.11 -6M109.83 0 L112.21 0M115.14 -6 L117.52 0M119.9 -6 L117.52 0M114.19 -6 L116.57 -6M118.47 -6 L120.85 -6M125.59 -3.69 L124.64 -2.68 L123.4 -2.68 L122.45 -3.69 L122.45 -4.98 L123.4 -6 L124.64 -6 L125.59 -4.89 L125.59 -1.11 L124.64 0 L123.4 0 L122.59 -0.65M131.45 -6 L128.74 -6 L128.45 -3.32 L129.36 -3.83 L130.64 -3.83 L131.59 -3 L131.59 -1.11 L130.64 0 L129.4 0 L128.45 -0.83M138.43 -5.54 L138.9 -6 L138.9 -4.15 L138.43 -5.54 L137.47 -6 L136.05 -6 L135.09 -5.54 L134.62 -5.08 L134.14 -3.69 L134.14 -2.31 L134.62 -0.92 L135.09 -0.46 L136.05 0 L137.47 0 L138.43 -0.46 L138.9 -1.38"/><text class="t" lengthAdjust="spacingAndGlyphs" x="0.95" font-size="10.61" textLength="138">used instead of BYV95C</text></g>
<g transform="translate(24.56 319.5)"><path d="M1.87 -6 L1.87 0M0.93 -6 L4.21 -6 L5.62 -5.54 L6.09 -4.62 L5.62 -3.69 L4.21 -3.23M2.34 -3.23 L4.21 -3.23 L5.62 -2.77 L6.09 -1.85 L6.09 -1.38 L5.62 -0.46 L4.21 0 L0.93 0M9.63 -6 L9.63 0M8.69 -6 L11.98 -6 L13.39 -5.54 L13.86 -5.08 L14.33 -3.69 L14.33 -2.31 L13.86 -0.92 L13.39 -0.46 L11.98 0 L8.69 0M16.4 -6 L20.15 0M20.62 -6 L16.4 0M15.46 -6 L17.38 -6M19.64 -6 L21.56 -6M15.46 0 L17.38 0M19.64 0 L21.56 0M24.4 -6 L25.62 -6 L26.42 -5.31 L26.42 -3.92 L25.62 -3.23 L24.4 -3.23 L23.6 -3.92 L23.6 -5.31 L24.4 -6M25.62 -3.23 L26.56 -2.4 L26.56 -0.92 L25.62 0 L24.4 0 L23.46 -0.92 L23.46 -2.4 L24.4 -3.23M29.96 -4.98 L29.96 -6 L33.06 -6 L31.23 0M36.37 -6 L36.37 0M35.43 -6 L38.71 -6 L40.12 -5.54 L40.59 -4.62 L40.12 -3.69 L38.71 -3.23M36.84 -3.23 L38.71 -3.23 L40.12 -2.77 L40.59 -1.85 L40.59 -1.38 L40.12 -0.46 L38.71 0 L35.43 0M52.39 -4.15 L49.57 -4.15 L48.63 -3.46 L48.63 -2.77 L49.57 -2.08 L51.45 -2.08 L52.39 -1.38 L52.39 -0.69 L51.45 0 L48.63 0M55.4 -6 L55.4 0M55.87 -2.77 L56.34 -3.69 L57.27 -4.15 L58.21 -4.15 L59.15 -3.69 L59.62 -2.77 L59.62 0M54.46 -6 L55.87 -6M54.46 0 L56.38 0M58.64 0 L60.56 0M63.8 -4.15 L65.21 -4.15 L66.39 -3.14 L66.39 -1.02 L65.21 0 L63.8 0 L62.63 -1.02 L62.63 -3.14 L63.8 -4.15M69.4 -4.15 L69.4 -1.38 L69.87 -0.46 L70.8 0 L71.74 0 L72.68 -0.46 L73.15 -1.38M73.15 -4.15 L73.15 0M68.46 -4.15 L69.87 -4.15M72.21 -4.15 L73.62 -4.15M73.15 0 L74.56 0M77.77 -6 L77.77 0M76.84 -6 L78.24 -6M76.84 0 L79.18 0M84.68 -6 L84.68 0M84.21 -3.69 L83.27 -4.15 L82.34 -4.15 L81.4 -3.69 L80.93 -2.77 L80.93 -1.38 L81.4 -0.46 L82.34 0 L83.27 0 L84.21 -0.46M83.74 -6 L85.15 -6M84.68 0 L86.09 0M94.4 -6 L94.4 0M94.87 -2.77 L95.34 -3.69 L96.27 -4.15 L97.21 -4.15 L98.15 -3.69 L98.62 -2.77 L98.62 0M93.46 -6 L94.87 -6M93.46 0 L95.38 0M97.64 0 L99.56 0M105.92 -4.15 L105.92 0 L106.86 0M105.92 -3.23 L104.98 -4.15 L103.1 -4.15 L102.16 -3.23 L102.16 -0.92 L103.1 0 L104.98 0 L105.92 -0.92M109.13 -4.15 L111.01 0M112.89 -4.15 L111.01 0M108.19 -4.15 L110.12 -4.15M112.37 -4.15 L113.83 -4.15M118.89 -2.31 L115.13 -2.31M118.89 -2.31 L118.89 -3.23 L117.95 -4.15 L116.07 -4.15 L115.13 -3.23 L115.13 -0.92 L116.07 0 L118.89 0M130.92 -4.15 L130.92 0 L131.86 0M130.92 -3.23 L129.98 -4.15 L128.1 -4.15 L127.16 -3.23 L127.16 -0.92 L128.1 0 L129.98 0 L130.92 -0.92"/><text class="t" lengthAdjust="spacingAndGlyphs" x="0.94" font-size="10.61" textLength="131">BDX87B should have a</text></g>
<g transform="translate(24.53 332.5)"><path d="M1.86 -6 L1.86 0M2.35 -2.77 L2.83 -3.69 L3.79 -4.15 L4.76 -4.15 L5.73 -3.69 L6.21 -2.77 L6.21 0M0.9 -6 L2.35 -6M0.9 0 L2.88 0M5.2 0 L7.18 0M12.97 -2.31 L9.1 -2.31M12.97 -2.31 L12.97 -3.23 L12 -4.15 L10.07 -4.15 L9.1 -3.23 L9.1 -0.92 L10.07 0 L12.97 0M19.99 -4.15 L19.99 0 L20.95 0M19.99 -3.23 L19.02 -4.15 L17.09 -4.15 L16.12 -3.23 L16.12 -0.92 L17.09 0 L19.02 0 L19.99 -0.92M23.1 -4.15 L25.04 0M26.97 -4.15 L25.04 0M22.14 -4.15 L24.12 -4.15M26.44 -4.15 L27.93 -4.15M30.1 -4.15 L32.04 0M33.97 -4.15 L32.04 0 L31.07 1.38 L30.1 1.85 L29.62 1.85 L29.14 1.38 L29.14 0.92 L29.62 0.92 L29.62 1.38 L29.14 1.38M29.14 -4.15 L31.12 -4.15M33.44 -4.15 L34.93 -4.15M42.86 -6 L42.86 0M43.35 -2.77 L43.83 -3.69 L44.79 -4.15 L45.76 -4.15 L46.73 -3.69 L47.21 -2.77 L47.21 0M41.9 -6 L43.35 -6M41.9 0 L43.88 0M46.2 0 L48.18 0M53.97 -2.31 L50.1 -2.31M53.97 -2.31 L53.97 -3.23 L53 -4.15 L51.07 -4.15 L50.1 -3.23 L50.1 -0.92 L51.07 0 L53.97 0M60.99 -4.15 L60.99 0 L61.95 0M60.99 -3.23 L60.02 -4.15 L58.09 -4.15 L57.12 -3.23 L57.12 -0.92 L58.09 0 L60.02 0 L60.99 -0.92M64.81 -6 L64.81 -0.92 L65.78 0 L66.74 0 L67.23 -0.46 L67.23 -0.92M63.85 -4.15 L66.74 -4.15M69.12 -3 L73.95 -3M69.12 -2 L73.95 -2M79.97 -4.15 L77.07 -4.15 L76.1 -3.46 L76.1 -2.77 L77.07 -2.08 L79 -2.08 L79.97 -1.38 L79.97 -0.69 L79 0 L76.1 0M83.54 -5.77 L83.54 -5.77M83.29 -4.15 L83.29 0M82.33 -4.15 L83.78 -4.15M82.33 0 L84.74 0M87.36 -4.15 L87.36 0M87.85 -2.77 L88.33 -3.69 L89.29 -4.15 L90.26 -4.15 L91.23 -3.69 L91.71 -2.77 L91.71 0M86.4 -4.15 L87.85 -4.15M86.4 0 L88.38 0M90.7 0 L92.68 0M95.86 -6 L95.86 0M100.21 -4.15 L96.35 -1.38M97.79 -2.31 L99.73 0M94.9 -6 L96.35 -6M98.76 -4.15 L101.18 -4.15M94.9 0 L96.88 0M99.2 0 L101.18 0"/><text class="t" lengthAdjust="spacingAndGlyphs" x="0.97" font-size="10.61" textLength="100">heavy heat-sink</text></g>
<g transform="translate(24.53 359.5)"><path d="M3.3 -6 L3.3 0M1.36 -6 L0.88 -4.15 L0.88 -6 L6.2 -6 L6.2 -4.15 L5.72 -6M2.33 0 L4.75 0M9.36 -6 L9.36 0M9.84 -2.77 L10.33 -3.69 L11.3 -4.15 L12.26 -4.15 L13.23 -3.69 L13.72 -2.77 L13.72 0M8.39 -6 L9.84 -6M8.39 0 L10.38 0M12.7 0 L14.68 0M20.47 -2.31 L16.6 -2.31M20.47 -2.31 L20.47 -3.23 L19.51 -4.15 L17.57 -4.15 L16.6 -3.23 L16.6 -0.92 L17.57 0 L20.47 0M31.51 -6 L31.99 -5.54 L31.99 -5.08 L32.47 -5.08 L32.47 -5.54 L31.51 -6 L30.54 -6 L29.57 -5.08 L29.57 0M28.6 -4.15 L31.02 -4.15M28.6 0 L31.02 0M34.8 -6 L34.8 0M33.83 -6 L35.28 -6M33.83 0 L36.25 0M38.6 -4.15 L40.54 0M42.47 -4.15 L40.54 0 L39.57 1.38 L38.6 1.85 L38.12 1.85 L37.63 1.38 L37.63 0.92 L38.12 0.92 L38.12 1.38 L37.63 1.38M37.63 -4.15 L39.62 -4.15M41.94 -4.15 L43.44 -4.15M45.84 -6 L45.84 0M46.33 -2.77 L46.81 -3.69 L47.78 -4.15 L48.75 -4.15 L49.72 -3.69 L50.2 -2.77 L50.2 -1.38 L49.72 -0.46 L48.75 0 L47.78 0 L46.81 -0.46 L46.33 -1.38M44.88 -6 L46.33 -6M56.49 -4.15 L56.49 0 L57.46 0M56.49 -3.23 L55.52 -4.15 L53.59 -4.15 L52.62 -3.23 L52.62 -0.92 L53.59 0 L55.52 0 L56.49 -0.92M63.47 -3.23 L62.99 -3.23 L62.99 -2.77 L63.47 -2.77 L63.47 -3.23 L62.99 -3.69 L62.02 -4.15 L61.05 -4.15 L60.09 -3.69 L59.6 -2.77 L59.6 -1.38 L60.09 -0.46 L61.05 0 L62.02 0 L62.99 -0.46 L63.47 -0.92M66.36 -6 L66.36 0M70.72 -4.15 L66.84 -1.38M68.3 -2.31 L70.23 0M65.39 -6 L66.84 -6M69.26 -4.15 L71.68 -4.15M65.39 0 L67.38 0M69.7 0 L71.68 0M82.97 -4.15 L80.07 -4.15 L79.1 -3.46 L79.1 -2.77 L80.07 -2.08 L82.01 -2.08 L82.97 -1.38 L82.97 -0.69 L82.01 0 L79.1 0M88.97 -2.31 L85.1 -2.31M88.97 -2.31 L88.97 -3.23 L88.01 -4.15 L86.07 -4.15 L85.1 -3.23 L85.1 -0.92 L86.07 0 L88.97 0M95.47 -3.23 L94.99 -3.23 L94.99 -2.77 L95.47 -2.77 L95.47 -3.23 L94.99 -3.69 L94.02 -4.15 L93.05 -4.15 L92.09 -3.69 L91.6 -2.77 L91.6 -1.38 L92.09 -0.46 L93.05 0 L94.02 0 L94.99 -0.46 L95.47 -0.92M98.81 -4.15 L100.26 -4.15 L101.47 -3.14 L101.47 -1.02 L100.26 0 L98.81 0 L97.6 -1.02 L97.6 -3.14 L98.81 -4.15M104.86 -4.15 L104.86 0M105.34 -2.77 L105.83 -3.69 L106.8 -4.15 L107.76 -4.15 L108.73 -3.69 L109.22 -2.77 L109.22 0M103.89 -4.15 L105.34 -4.15M103.89 0 L105.88 0M108.2 0 L110.18 0M115.75 -6 L115.75 0M115.26 -3.69 L114.3 -4.15 L113.33 -4.15 L112.36 -3.69 L111.88 -2.77 L111.88 -1.38 L112.36 -0.46 L113.33 0 L114.3 0 L115.26 -0.46M114.78 -6 L116.23 -6M115.75 0 L117.2 0M123.49 -4.15 L123.49 0 L124.46 0M123.49 -3.23 L122.52 -4.15 L120.59 -4.15 L119.62 -3.23 L119.62 -0.92 L120.59 0 L122.52 0 L123.49 -0.92M127.33 -4.15 L127.33 0M127.81 -2.77 L128.3 -3.69 L129.26 -4.15 L130.23 -4.15 L130.72 -3.69 L130.72 -3.23 L130.23 -3.23 L130.23 -3.69 L130.72 -3.69M126.36 -4.15 L127.81 -4.15M126.36 0 L128.78 0M133.1 -4.15 L135.04 0M136.97 -4.15 L135.04 0 L134.07 1.38 L133.1 1.85 L132.62 1.85 L132.13 1.38 L132.13 0.92 L132.62 0.92 L132.62 1.38 L132.13 1.38M132.13 -4.15 L134.12 -4.15M136.44 -4.15 L137.94 -4.15"/><text class="t" lengthAdjust="spacingAndGlyphs" x="0.97" font-size="10.61" textLength="137">The flyback secondary</text></g>
<g transform="translate(24.55 372.5)"><path d="M4.92 -4.15 L2.07 -4.15 L1.12 -3.46 L1.12 -2.77 L2.07 -2.08 L3.97 -2.08 L4.92 -1.38 L4.92 -0.69 L3.97 0 L1.12 0M8.38 -6 L8.38 0M8.86 -2.77 L9.33 -3.69 L10.28 -4.15 L11.23 -4.15 L12.19 -3.69 L12.66 -2.77 L12.66 0M7.43 -6 L8.86 -6M7.43 0 L9.38 0M11.66 0 L13.61 0M16.81 -4.15 L18.23 -4.15 L19.42 -3.14 L19.42 -1.02 L18.23 0 L16.81 0 L15.62 -1.02 L15.62 -3.14 L16.81 -4.15M22.38 -4.15 L22.38 -1.38 L22.86 -0.46 L23.81 0 L24.76 0 L25.71 -0.46 L26.19 -1.38M26.19 -4.15 L26.19 0M21.43 -4.15 L22.86 -4.15M25.23 -4.15 L26.66 -4.15M26.19 0 L27.61 0M30.28 -6 L30.28 0M29.33 -6 L30.76 -6M29.33 0 L31.71 0M37.71 -6 L37.71 0M37.23 -3.69 L36.28 -4.15 L35.33 -4.15 L34.38 -3.69 L33.91 -2.77 L33.91 -1.38 L34.38 -0.46 L35.33 0 L36.28 0 L37.23 -0.46M36.76 -6 L38.19 -6M37.71 0 L39.14 0M47.86 -6 L47.86 0M48.33 -2.77 L48.81 -3.69 L49.76 -4.15 L50.71 -4.15 L51.66 -3.69 L52.14 -2.77 L52.14 -1.38 L51.66 -0.46 L50.71 0 L49.76 0 L48.81 -0.46 L48.33 -1.38M46.91 -6 L48.33 -6M57.42 -2.31 L53.62 -2.31M57.42 -2.31 L57.42 -3.23 L56.47 -4.15 L54.57 -4.15 L53.62 -3.23 L53.62 -0.92 L54.57 0 L57.42 0M66.12 -4.15 L68.02 0M69.92 -4.15 L68.02 0M65.17 -4.15 L67.12 -4.15M69.4 -4.15 L70.87 -4.15M75.92 -2.31 L72.12 -2.31M75.92 -2.31 L75.92 -3.23 L74.97 -4.15 L73.07 -4.15 L72.12 -3.23 L72.12 -0.92 L73.07 0 L75.92 0M79.33 -4.15 L79.33 0M79.81 -2.77 L80.28 -3.69 L81.23 -4.15 L82.19 -4.15 L82.66 -3.69 L82.66 -3.23 L82.19 -3.23 L82.19 -3.69 L82.66 -3.69M78.38 -4.15 L79.81 -4.15M78.38 0 L80.76 0M85.12 -4.15 L87.02 0M88.92 -4.15 L87.02 0 L86.07 1.38 L85.12 1.85 L84.64 1.85 L84.17 1.38 L84.17 0.92 L84.64 0.92 L84.64 1.38 L84.17 1.38M84.17 -4.15 L86.12 -4.15M88.4 -4.15 L89.87 -4.15M100.71 -6 L100.71 0M100.23 -3.69 L99.28 -4.15 L98.33 -4.15 L97.38 -3.69 L96.91 -2.77 L96.91 -1.38 L97.38 -0.46 L98.33 0 L99.28 0 L100.23 -0.46M99.76 -6 L101.19 -6M100.71 0 L102.14 0M105.52 -5.77 L105.52 -5.77M105.28 -4.15 L105.28 0M104.33 -4.15 L105.76 -4.15M104.33 0 L106.71 0M112.42 -4.15 L109.57 -4.15 L108.62 -3.46 L108.62 -2.77 L109.57 -2.08 L111.47 -2.08 L112.42 -1.38 L112.42 -0.69 L111.47 0 L108.62 0M115.38 -6 L115.38 0M119.66 -4.15 L115.86 -1.38M117.28 -2.31 L119.19 0M114.43 -6 L115.86 -6M118.23 -4.15 L120.61 -4.15M114.43 0 L116.38 0M118.66 0 L120.61 0M122.14 -3 L126.9 -3M122.14 -2 L126.9 -2"/><text class="t" lengthAdjust="spacingAndGlyphs" x="0.95" font-size="10.61" textLength="126">should be very disk-</text></g>
<g transform="translate(24.54 385.5)"><path d="M4.96 -4.15 L2.07 -4.15 L1.11 -3.46 L1.11 -2.77 L2.07 -2.08 L4 -2.08 L4.96 -1.38 L4.96 -0.69 L4 0 L1.11 0M8.37 -6 L8.37 0M8.85 -2.77 L9.33 -3.69 L10.29 -4.15 L11.26 -4.15 L12.22 -3.69 L12.7 -2.77 L12.7 0M7.4 -6 L8.85 -6M7.4 0 L9.38 0M11.69 0 L13.66 0M19.98 -4.15 L19.98 0 L20.94 0M19.98 -3.23 L19.01 -4.15 L17.09 -4.15 L16.13 -3.23 L16.13 -0.92 L17.09 0 L19.01 0 L19.98 -0.92M23.85 -4.15 L23.85 1.85M24.33 -2.77 L24.81 -3.69 L25.77 -4.15 L26.74 -4.15 L27.7 -3.69 L28.18 -2.77 L28.18 -1.38 L27.7 -0.46 L26.74 0 L25.77 0 L24.81 -0.46 L24.33 -1.38M22.88 -4.15 L24.33 -4.15M22.88 1.85 L25.29 1.85M33.96 -2.31 L30.11 -2.31M33.96 -2.31 L33.96 -3.23 L33 -4.15 L31.07 -4.15 L30.11 -3.23 L30.11 -0.92 L31.07 0 L33.96 0M40.24 -6 L40.24 0M39.76 -3.69 L38.79 -4.15 L37.83 -4.15 L36.87 -3.69 L36.38 -2.77 L36.38 -1.38 L36.87 -0.46 L37.83 0 L38.79 0 L39.76 -0.46M39.27 -6 L40.72 -6M40.24 0 L41.68 0M49.64 -4.15 L51.09 0M52.53 -4.15 L51.09 0M52.53 -4.15 L53.98 0M55.42 -4.15 L53.98 0M48.68 -4.15 L51.09 -4.15M54.46 -4.15 L56.39 -4.15M59.03 -5.77 L59.03 -5.77M58.79 -4.15 L58.79 0M57.83 -4.15 L59.27 -4.15M57.83 0 L60.24 0M63.31 -6 L63.31 -0.92 L64.27 0 L65.24 0 L65.72 -0.46 L65.72 -0.92M62.35 -4.15 L65.24 -4.15M68.37 -6 L68.37 0M68.85 -2.77 L69.33 -3.69 L70.29 -4.15 L71.26 -4.15 L72.22 -3.69 L72.7 -2.77 L72.7 0M67.4 -6 L68.85 -6M67.4 0 L69.38 0M71.69 0 L73.66 0M85.98 -4.15 L85.98 0 L86.94 0M85.98 -3.23 L85.01 -4.15 L83.09 -4.15 L82.13 -3.23 L82.13 -0.92 L83.09 0 L85.01 0 L85.98 -0.92M95.33 -4.15 L95.33 0M95.81 -2.77 L96.29 -3.69 L97.26 -4.15 L98.22 -4.15 L98.7 -3.69 L98.7 -3.23 L98.22 -3.23 L98.22 -3.69 L98.7 -3.69M94.37 -4.15 L95.81 -4.15M94.37 0 L96.77 0M104.98 -4.15 L104.98 0 L105.94 0M104.98 -3.23 L104.01 -4.15 L102.09 -4.15 L101.13 -3.23 L101.13 -0.92 L102.09 0 L104.01 0 L104.98 -0.92M108.81 -6 L108.81 -0.92 L109.77 0 L110.74 0 L111.22 -0.46 L111.22 -0.92M107.85 -4.15 L110.74 -4.15M114.37 -6 L114.37 0M114.85 -2.77 L115.33 -3.69 L116.29 -4.15 L117.26 -4.15 L118.22 -3.69 L118.7 -2.77 L118.7 0M113.4 -6 L114.85 -6M113.4 0 L115.38 0M117.69 0 L119.66 0M125.46 -2.31 L121.61 -2.31M125.46 -2.31 L125.46 -3.23 L124.5 -4.15 L122.57 -4.15 L121.61 -3.23 L121.61 -0.92 L122.57 0 L125.46 0M128.83 -4.15 L128.83 0M129.31 -2.77 L129.79 -3.69 L130.76 -4.15 L131.72 -4.15 L132.2 -3.69 L132.2 -3.23 L131.72 -3.23 L131.72 -3.69 L132.2 -3.69M127.87 -4.15 L129.31 -4.15M127.87 0 L130.27 0"/><text class="t" lengthAdjust="spacingAndGlyphs" x="0.96" font-size="10.61" textLength="131">shaped with a rather</text></g>
<g transform="translate(24.54 398.5)"><path d="M1.79 -6 L1.79 0M0.83 -6 L2.27 -6M0.83 0 L3.22 0M9.46 -4.15 L9.46 0 L10.42 0M9.46 -3.23 L8.5 -4.15 L6.59 -4.15 L5.64 -3.23 L5.64 -0.92 L6.59 0 L8.5 0 L9.46 -0.92M13.33 -4.15 L13.33 0M13.81 -2.77 L14.29 -3.69 L15.24 -4.15 L16.2 -4.15 L16.68 -3.69 L16.68 -3.23 L16.2 -3.23 L16.2 -3.69 L16.68 -3.69M12.37 -4.15 L13.81 -4.15M12.37 0 L14.77 0M20.31 -4.15 L19.35 -3.23 L19.35 -2.31 L20.31 -1.38 L21.27 -1.38 L22.22 -2.31 L22.22 -3.23 L21.27 -4.15 L20.31 -4.15M22.22 -3.69 L22.7 -4.15 L23.42 -4.15M19.83 -1.62 L19.11 -0.92 L19.35 -0.23 L20.07 0 L21.74 0 L22.7 0.46 L23.18 1.15 L22.94 1.85 L21.98 2.31 L19.83 2.31 L18.87 1.85 L18.64 1.15 L19.11 0.46 L20.07 0M28.94 -2.31 L25.11 -2.31M28.94 -2.31 L28.94 -3.23 L27.98 -4.15 L26.07 -4.15 L25.11 -3.23 L25.11 -0.92 L26.07 0 L28.94 0M40.72 -6 L40.72 0M40.24 -3.69 L39.29 -4.15 L38.33 -4.15 L37.37 -3.69 L36.9 -2.77 L36.9 -1.38 L37.37 -0.46 L38.33 0 L39.29 0 L40.24 -0.46M39.77 -6 L41.2 -6M40.72 0 L42.16 0M45.03 -5.77 L45.03 -5.77M44.79 -4.15 L44.79 0M43.83 -4.15 L45.27 -4.15M43.83 0 L46.22 0M52.46 -4.15 L52.46 0 L53.42 0M52.46 -3.23 L51.5 -4.15 L49.59 -4.15 L48.64 -3.23 L48.64 -0.92 L49.59 0 L51.5 0 L52.46 -0.92M56.46 -4.15 L56.46 0M56.94 -2.77 L57.42 -3.69 L58.37 -4.15 L59.33 -4.15 L60.29 -3.69 L60.77 -2.77 L60.77 0M60.77 -2.77 L61.24 -3.69 L62.2 -4.15 L63.16 -4.15 L64.11 -3.69 L64.59 -2.77 L64.59 0M55.51 -4.15 L56.94 -4.15M55.51 0 L57.9 0M59.33 0 L61.72 0M63.16 0 L65.55 0M71.44 -2.31 L67.61 -2.31M71.44 -2.31 L71.44 -3.23 L70.48 -4.15 L68.57 -4.15 L67.61 -3.23 L67.61 -0.92 L68.57 0 L71.44 0M74.81 -6 L74.81 -0.92 L75.77 0 L76.72 0 L77.2 -0.46 L77.2 -0.92M73.85 -4.15 L76.72 -4.15M82.94 -2.31 L79.11 -2.31M82.94 -2.31 L82.94 -3.23 L81.98 -4.15 L80.07 -4.15 L79.11 -3.23 L79.11 -0.92 L80.07 0 L82.94 0M86.33 -4.15 L86.33 0M86.81 -2.77 L87.29 -3.69 L88.24 -4.15 L89.2 -4.15 L89.68 -3.69 L89.68 -3.23 L89.2 -3.23 L89.2 -3.69 L89.68 -3.69M85.37 -4.15 L86.81 -4.15M85.37 0 L87.77 0M91.53 -0.18 L91.53 -0.18M104.29 -6 L104.29 0M102.37 -6 L101.9 -4.15 L101.9 -6 L107.16 -6 L107.16 -4.15 L106.68 -6M103.33 0 L105.72 0M109.87 -6 L109.87 0M110.35 -2.77 L110.83 -3.69 L111.79 -4.15 L112.74 -4.15 L113.7 -3.69 L114.18 -2.77 L114.18 0M108.92 -6 L110.35 -6M108.92 0 L110.88 0M113.17 0 L115.13 0M120.94 -2.31 L117.11 -2.31M120.94 -2.31 L120.94 -3.23 L119.98 -4.15 L118.07 -4.15 L117.11 -3.23 L117.11 -0.92 L118.07 0 L120.94 0"/><text class="t" lengthAdjust="spacingAndGlyphs" x="0.96" font-size="10.61" textLength="120">large diameter. The</text></g>
<g transform="translate(24.54 411.5)"><path d="M1.95 -4.15 L1.95 0M2.43 -2.77 L2.91 -3.69 L3.87 -4.15 L4.83 -4.15 L5.79 -3.69 L6.27 -2.77 L6.27 0M6.27 -2.77 L6.75 -3.69 L7.71 -4.15 L8.67 -4.15 L9.63 -3.69 L10.11 -2.77 L10.11 0M0.99 -4.15 L2.43 -4.15M0.99 0 L3.39 0M4.83 0 L7.23 0M8.67 0 L11.07 0M14.31 -4.15 L15.75 -4.15 L16.95 -3.14 L16.95 -1.02 L15.75 0 L14.31 0 L13.11 -1.02 L13.11 -3.14 L14.31 -4.15M20.33 -4.15 L20.33 0M20.81 -2.77 L21.29 -3.69 L22.25 -4.15 L23.21 -4.15 L23.69 -3.69 L23.69 -3.23 L23.21 -3.23 L23.21 -3.69 L23.69 -3.69M19.37 -4.15 L20.81 -4.15M19.37 0 L21.77 0M29.45 -2.31 L25.61 -2.31M29.45 -2.31 L29.45 -3.23 L28.49 -4.15 L26.57 -4.15 L25.61 -3.23 L25.61 -0.92 L26.57 0 L29.45 0M41.45 -3.23 L40.97 -3.23 L40.97 -2.77 L41.45 -2.77 L41.45 -3.23 L40.97 -3.69 L40.01 -4.15 L39.05 -4.15 L38.09 -3.69 L37.61 -2.77 L37.61 -1.38 L38.09 -0.46 L39.05 0 L40.01 0 L40.97 -0.46 L41.45 -0.92M43.61 -4.15 L45.53 0M47.45 -4.15 L45.53 0 L44.57 1.38 L43.61 1.85 L43.13 1.85 L42.65 1.38 L42.65 0.92 L43.13 0.92 L43.13 1.38 L42.65 1.38M42.65 -4.15 L44.62 -4.15M46.92 -4.15 L48.41 -4.15M50.79 -6 L50.79 0M49.83 -6 L51.27 -6M49.83 0 L52.23 0M55.53 -5.77 L55.53 -5.77M55.29 -4.15 L55.29 0M54.33 -4.15 L55.77 -4.15M54.33 0 L56.73 0M59.37 -4.15 L59.37 0M59.85 -2.77 L60.33 -3.69 L61.29 -4.15 L62.25 -4.15 L63.21 -3.69 L63.69 -2.77 L63.69 0M58.41 -4.15 L59.85 -4.15M58.41 0 L60.38 0M62.68 0 L64.65 0M70.73 -6 L70.73 0M70.25 -3.69 L69.29 -4.15 L68.33 -4.15 L67.37 -3.69 L66.89 -2.77 L66.89 -1.38 L67.37 -0.46 L68.33 0 L69.29 0 L70.25 -0.46M69.77 -6 L71.21 -6M70.73 0 L72.17 0M74.83 -4.15 L74.83 0M75.31 -2.77 L75.79 -3.69 L76.75 -4.15 L77.71 -4.15 L78.19 -3.69 L78.19 -3.23 L77.71 -3.23 L77.71 -3.69 L78.19 -3.69M73.87 -4.15 L75.31 -4.15M73.87 0 L76.27 0M81.53 -5.77 L81.53 -5.77M81.29 -4.15 L81.29 0M80.33 -4.15 L81.77 -4.15M80.33 0 L82.73 0M88.45 -3.23 L87.97 -3.23 L87.97 -2.77 L88.45 -2.77 L88.45 -3.23 L87.97 -3.69 L87.01 -4.15 L86.05 -4.15 L85.09 -3.69 L84.61 -2.77 L84.61 -1.38 L85.09 -0.46 L86.05 0 L87.01 0 L87.97 -0.46 L88.45 -0.92M94.47 -4.15 L94.47 0 L95.43 0M94.47 -3.23 L93.51 -4.15 L91.59 -4.15 L90.63 -3.23 L90.63 -0.92 L91.59 0 L93.51 0 L94.47 -0.92M98.29 -6 L98.29 0M97.33 -6 L98.77 -6M97.33 0 L99.73 0M108.81 -4.15 L110.25 -4.15 L111.45 -3.14 L111.45 -1.02 L110.25 0 L108.81 0 L107.61 -1.02 L107.61 -3.14 L108.81 -4.15M114.87 -4.15 L114.87 0M115.35 -2.77 L115.83 -3.69 L116.79 -4.15 L117.75 -4.15 L118.71 -3.69 L119.19 -2.77 L119.19 0M113.91 -4.15 L115.35 -4.15M113.91 0 L115.88 0M118.18 0 L120.15 0M125.95 -2.31 L122.11 -2.31M125.95 -2.31 L125.95 -3.23 L124.99 -4.15 L123.07 -4.15 L122.11 -3.23 L122.11 -0.92 L123.07 0 L125.95 0M131.95 -4.15 L129.07 -4.15 L128.11 -3.46 L128.11 -2.77 L129.07 -2.08 L130.99 -2.08 L131.95 -1.38 L131.95 -0.69 L130.99 0 L128.11 0"/><text class="t" lengthAdjust="spacingAndGlyphs" x="0.96" font-size="10.61" textLength="131">more cylindrical ones</text></g>
<g transform="translate(25 424.5)"><path d="M1.57 -4.15 L3.07 0M4.57 -4.15 L3.07 0M4.57 -4.15 L6.07 0M7.57 -4.15 L6.07 0M0.57 -4.15 L3.07 -4.15M6.57 -4.15 L8.57 -4.15M11.07 -5.77 L11.07 -5.77M10.82 -4.15 L10.82 0M9.82 -4.15 L11.32 -4.15M9.82 0 L12.32 0M15.82 -6 L15.82 0M14.82 -6 L16.32 -6M14.82 0 L17.32 0M19.82 -6 L19.82 0M18.82 -6 L20.32 -6M18.82 0 L21.32 0M30.82 -4.15 L30.82 0M31.32 -2.77 L31.82 -3.69 L32.82 -4.15 L33.82 -4.15 L34.82 -3.69 L35.32 -2.77 L35.32 0M29.82 -4.15 L31.32 -4.15M29.82 0 L31.87 0M34.27 0 L36.32 0M39.32 -4.15 L40.82 -4.15 L42.07 -3.14 L42.07 -1.02 L40.82 0 L39.32 0 L38.07 -1.02 L38.07 -3.14 L39.32 -4.15M45.32 -6 L45.32 -0.92 L46.32 0 L47.32 0 L47.82 -0.46 L47.82 -0.92M44.32 -4.15 L47.32 -4.15M56.57 -4.15 L58.07 0M59.57 -4.15 L58.07 0M59.57 -4.15 L61.07 0M62.57 -4.15 L61.07 0M55.57 -4.15 L58.07 -4.15M61.57 -4.15 L63.57 -4.15M66.32 -4.15 L67.82 -4.15 L69.07 -3.14 L69.07 -1.02 L67.82 0 L66.32 0 L65.07 -1.02 L65.07 -3.14 L66.32 -4.15M72.82 -4.15 L72.82 0M73.32 -2.77 L73.82 -3.69 L74.82 -4.15 L75.82 -4.15 L76.32 -3.69 L76.32 -3.23 L75.82 -3.23 L75.82 -3.69 L76.32 -3.69M71.82 -4.15 L73.32 -4.15M71.82 0 L74.32 0M78.82 -6 L78.82 0M83.32 -4.15 L79.32 -1.38M80.82 -2.31 L82.82 0M77.82 -6 L79.32 -6M81.82 -4.15 L84.32 -4.15M77.82 0 L79.87 0M82.27 0 L84.32 0M96.57 -4.15 L96.57 0 L97.57 0M96.57 -3.23 L95.57 -4.15 L93.57 -4.15 L92.57 -3.23 L92.57 -0.92 L93.57 0 L95.57 0 L96.57 -0.92M103.57 -4.15 L100.57 -4.15 L99.57 -3.46 L99.57 -2.77 L100.57 -2.08 L102.57 -2.08 L103.57 -1.38 L103.57 -0.69 L102.57 0 L99.57 0M112.57 -4.15 L114.07 0M115.57 -4.15 L114.07 0M115.57 -4.15 L117.07 0M118.57 -4.15 L117.07 0M111.57 -4.15 L114.07 -4.15M117.57 -4.15 L119.57 -4.15M125.07 -2.31 L121.07 -2.31M125.07 -2.31 L125.07 -3.23 L124.07 -4.15 L122.07 -4.15 L121.07 -3.23 L121.07 -0.92 L122.07 0 L125.07 0M128.82 -6 L128.82 0M127.82 -6 L129.32 -6M127.82 0 L130.32 0M132.82 -6 L132.82 0M131.82 -6 L133.32 -6M131.82 0 L134.32 0M136.57 -0.18 L136.57 -0.18"/><text class="t" lengthAdjust="spacingAndGlyphs" x="0.5" font-size="10.61" textLength="136">will not work as well.</text></g>
<g transform="translate(24.57 474.5)"><path d="M3.94 -6 L4.41 -5.54 L4.41 -5.08 L4.87 -5.08 L4.87 -5.54 L3.94 -6 L3 -6 L2.07 -5.08 L2.07 0M1.14 -4.15 L3.47 -4.15M1.14 0 L3.47 0M7.3 -6 L7.3 -0.92 L8.24 0 L9.17 0 L9.64 -0.46 L9.64 -0.92M6.37 -4.15 L9.17 -4.15M12.37 -4.15 L12.37 1.85M12.84 -2.77 L13.3 -3.69 L14.24 -4.15 L15.17 -4.15 L16.11 -3.69 L16.57 -2.77 L16.57 -1.38 L16.11 -0.46 L15.17 0 L14.24 0 L13.3 -0.46 L12.84 -1.38M11.44 -4.15 L12.84 -4.15M11.44 1.85 L13.77 1.85M18.5 -0.18 L18.5 -0.18M25.94 -6 L26.41 -5.54 L26.41 -5.08 L26.87 -5.08 L26.87 -5.54 L25.94 -6 L25 -6 L24.07 -5.08 L24.07 0M23.14 -4.15 L25.47 -4.15M23.14 0 L25.47 0M28.9 -4.15 L28.9 -1.38 L29.37 -0.46 L30.3 0 L31.24 0 L32.17 -0.46 L32.64 -1.38M32.64 -4.15 L32.64 0M27.97 -4.15 L29.37 -4.15M31.7 -4.15 L33.11 -4.15M32.64 0 L34.04 0M36.9 -4.15 L36.9 0M37.37 -2.77 L37.84 -3.69 L38.77 -4.15 L39.7 -4.15 L40.64 -3.69 L41.11 -2.77 L41.11 0M35.97 -4.15 L37.37 -4.15M35.97 0 L37.88 0M40.13 0 L42.04 0M47.87 -2.31 L44.14 -2.31M47.87 -2.31 L47.87 -3.23 L46.94 -4.15 L45.07 -4.15 L44.14 -3.23 L44.14 -0.92 L45.07 0 L47.87 0M50.8 -6 L50.8 -0.92 L51.74 0 L52.67 0 L53.14 -0.46 L53.14 -0.92M49.87 -4.15 L52.67 -4.15M55 -0.18 L55 -0.18M62.44 -6 L62.91 -5.54 L62.91 -5.08 L63.37 -5.08 L63.37 -5.54 L62.44 -6 L61.5 -6 L60.57 -5.08 L60.57 0M59.64 -4.15 L61.97 -4.15M59.64 0 L61.97 0M66 -5.77 L66 -5.77M65.77 -4.15 L65.77 0M64.84 -4.15 L66.24 -4.15M64.84 0 L67.17 0M75.5 -3.69 L75.5 -3.69M75.5 -0.46 L75.5 -0.46M87 -7.38 L84.01 1.85M89.87 -4.15 L89.87 1.85M90.34 -2.77 L90.8 -3.69 L91.74 -4.15 L92.67 -4.15 L93.61 -3.69 L94.07 -2.77 L94.07 -1.38 L93.61 -0.46 L92.67 0 L91.74 0 L90.8 -0.46 L90.34 -1.38M88.94 -4.15 L90.34 -4.15M88.94 1.85 L91.27 1.85M96.9 -4.15 L96.9 -1.38 L97.37 -0.46 L98.3 0 L99.24 0 L100.17 -0.46 L100.64 -1.38M100.64 -4.15 L100.64 0M95.97 -4.15 L97.37 -4.15M99.7 -4.15 L101.11 -4.15M100.64 0 L102.04 0M104.87 -6 L104.87 0M105.34 -2.77 L105.8 -3.69 L106.74 -4.15 L107.67 -4.15 L108.61 -3.69 L109.07 -2.77 L109.07 -1.38 L108.61 -0.46 L107.67 0 L106.74 0 L105.8 -0.46 L105.34 -1.38M103.94 -6 L105.34 -6M113.5 -7.38 L110.51 1.85M119.37 -4.15 L116.57 -4.15 L115.64 -3.46 L115.64 -2.77 L116.57 -2.08 L118.44 -2.08 L119.37 -1.38 L119.37 -0.69 L118.44 0 L115.64 0M125.37 -3.23 L124.91 -3.23 L124.91 -2.77 L125.37 -2.77 L125.37 -3.23 L124.91 -3.69 L123.97 -4.15 L123.04 -4.15 L122.1 -3.69 L121.64 -2.77 L121.64 -1.38 L122.1 -0.46 L123.04 0 L123.97 0 L124.91 -0.46 L125.37 -0.92M128.5 -5.77 L128.5 -5.77M128.27 -4.15 L128.27 0M127.34 -4.15 L128.74 -4.15M127.34 0 L129.67 0M134 -7.38 L131.01 1.85M139.87 -2.31 L136.14 -2.31M139.87 -2.31 L139.87 -3.23 L138.94 -4.15 L137.07 -4.15 L136.14 -3.23 L136.14 -0.92 L137.07 0 L139.87 0M142.77 -6 L142.77 0M141.84 -6 L143.24 -6M141.84 0 L144.17 0M149.87 -2.31 L146.14 -2.31M149.87 -2.31 L149.87 -3.23 L148.94 -4.15 L147.07 -4.15 L146.14 -3.23 L146.14 -0.92 L147.07 0 L149.87 0M155.87 -3.23 L155.41 -3.23 L155.41 -2.77 L155.87 -2.77 L155.87 -3.23 L155.41 -3.69 L154.47 -4.15 L153.54 -4.15 L152.6 -3.69 L152.14 -2.77 L152.14 -1.38 L152.6 -0.46 L153.54 0 L154.47 0 L155.41 -0.46 L155.87 -0.92M158.8 -6 L158.8 -0.92 L159.74 0 L160.67 0 L161.14 -0.46 L161.14 -0.92M157.87 -4.15 L160.67 -4.15M163.84 -4.15 L163.84 0M164.3 -2.77 L164.77 -3.69 L165.7 -4.15 L166.64 -4.15 L167.11 -3.69 L167.11 -3.23 L166.64 -3.23 L166.64 -3.69 L167.11 -3.69M162.9 -4.15 L164.3 -4.15M162.9 0 L165.24 0M170.5 -5.77 L170.5 -5.77M170.27 -4.15 L170.27 0M169.34 -4.15 L170.74 -4.15M169.34 0 L171.67 0M176.87 -3.23 L176.41 -3.23 L176.41 -2.77 L176.87 -2.77 L176.87 -3.23 L176.41 -3.69 L175.47 -4.15 L174.54 -4.15 L173.6 -3.69 L173.14 -2.77 L173.14 -1.38 L173.6 -0.46 L174.54 0 L175.47 0 L176.41 -0.46 L176.87 -0.92M183.41 -4.15 L183.41 0 L184.34 0M183.41 -3.23 L182.47 -4.15 L180.6 -4.15 L179.67 -3.23 L179.67 -0.92 L180.6 0 L182.47 0 L183.41 -0.92M186.77 -6 L186.77 0M185.84 -6 L187.24 -6M185.84 0 L188.17 0M193 -7.38 L190.01 1.85M195.8 -6 L195.8 -0.92 L196.74 0 L197.67 0 L198.14 -0.46 L198.14 -0.92M194.87 -4.15 L197.67 -4.15M203.87 -2.31 L200.14 -2.31M203.87 -2.31 L203.87 -3.23 L202.94 -4.15 L201.07 -4.15 L200.14 -3.23 L200.14 -0.92 L201.07 0 L203.87 0M209.87 -4.15 L207.07 -4.15 L206.14 -3.46 L206.14 -2.77 L207.07 -2.08 L208.94 -2.08 L209.87 -1.38 L209.87 -0.69 L208.94 0 L206.14 0M213.27 -6 L213.27 0M212.34 -6 L213.74 -6M212.34 0 L214.67 0M220.41 -4.15 L220.41 0 L221.34 0M220.41 -3.23 L219.47 -4.15 L217.6 -4.15 L216.67 -3.23 L216.67 -0.92 L217.6 0 L219.47 0 L220.41 -0.92M229.17 -3 L233.84 -3M229.17 -2 L233.84 -2M241.8 -6 L241.8 -0.92 L242.74 0 L243.67 0 L244.14 -0.46 L244.14 -0.92M240.87 -4.15 L243.67 -4.15M247.4 -6 L247.4 0M247.87 -2.77 L248.34 -3.69 L249.27 -4.15 L250.2 -4.15 L251.14 -3.69 L251.61 -2.77 L251.61 0M246.47 -6 L247.87 -6M246.47 0 L248.38 0M250.63 0 L252.54 0M257.87 -2.31 L254.14 -2.31M257.87 -2.31 L257.87 -3.23 L256.94 -4.15 L255.07 -4.15 L254.14 -3.23 L254.14 -0.92 L255.07 0 L257.87 0M266.87 -4.15 L266.87 1.85M267.34 -2.77 L267.8 -3.69 L268.74 -4.15 L269.67 -4.15 L270.61 -3.69 L271.07 -2.77 L271.07 -1.38 L270.61 -0.46 L269.67 0 L268.74 0 L267.8 -0.46 L267.34 -1.38M265.94 -4.15 L267.34 -4.15M265.94 1.85 L268.27 1.85M273.77 -6 L273.77 0M272.84 -6 L274.24 -6M272.84 0 L275.17 0M281.41 -4.15 L281.41 0 L282.34 0M281.41 -3.23 L280.47 -4.15 L278.6 -4.15 L277.67 -3.23 L277.67 -0.92 L278.6 0 L280.47 0 L281.41 -0.92M287.87 -3.23 L287.41 -3.23 L287.41 -2.77 L287.87 -2.77 L287.87 -3.23 L287.41 -3.69 L286.47 -4.15 L285.54 -4.15 L284.6 -3.69 L284.14 -2.77 L284.14 -1.38 L284.6 -0.46 L285.54 0 L286.47 0 L287.41 -0.46 L287.87 -0.92M293.37 -2.31 L289.64 -2.31M293.37 -2.31 L293.37 -3.23 L292.44 -4.15 L290.57 -4.15 L289.64 -3.23 L289.64 -0.92 L290.57 0 L293.37 0M303.94 -6 L304.41 -5.54 L304.41 -5.08 L304.87 -5.08 L304.87 -5.54 L303.94 -6 L303 -6 L302.07 -5.08 L302.07 0M301.14 -4.15 L303.47 -4.15M301.14 0 L303.47 0M307.8 -4.15 L309.2 -4.15 L310.37 -3.14 L310.37 -1.02 L309.2 0 L307.8 0 L306.64 -1.02 L306.64 -3.14 L307.8 -4.15M313.34 -4.15 L313.34 0M313.8 -2.77 L314.27 -3.69 L315.2 -4.15 L316.14 -4.15 L316.61 -3.69 L316.61 -3.23 L316.14 -3.23 L316.14 -3.69 L316.61 -3.69M312.4 -4.15 L313.8 -4.15M312.4 0 L314.74 0M325.14 -6 L325.14 0M325.6 -5.08 L328.87 0M328.87 -6 L328.87 0M324.2 -6 L325.6 -6M327.94 -6 L329.81 -6M324.2 0 L326.07 0M333 -5.77 L333 -5.77M332.77 -4.15 L332.77 0M331.84 -4.15 L333.24 -4.15M331.84 0 L334.17 0M336.9 -6 L336.9 0M341.11 -4.15 L337.37 -1.38M338.77 -2.31 L340.64 0M335.97 -6 L337.37 -6M339.7 -4.15 L342.04 -4.15M335.97 0 L337.88 0M340.13 0 L342.04 0M344.8 -4.15 L346.2 -4.15 L347.37 -3.14 L347.37 -1.02 L346.2 0 L344.8 0 L343.64 -1.02 L343.64 -3.14 L344.8 -4.15M350.27 -6 L350.27 0M349.34 -6 L350.74 -6M349.34 0 L351.67 0M357.91 -4.15 L357.91 0 L358.84 0M357.91 -3.23 L356.97 -4.15 L355.1 -4.15 L354.17 -3.23 L354.17 -0.92 L355.1 0 L356.97 0 L357.91 -0.92M368.77 -6 L368.77 0M366.9 -6 L366.44 -4.15 L366.44 -6 L371.57 -6 L371.57 -4.15 L371.11 -6M367.84 0 L370.17 0M376.87 -2.31 L373.14 -2.31M376.87 -2.31 L376.87 -3.23 L375.94 -4.15 L374.07 -4.15 L373.14 -3.23 L373.14 -0.92 L374.07 0 L376.87 0M382.87 -4.15 L380.07 -4.15 L379.14 -3.46 L379.14 -2.77 L380.07 -2.08 L381.94 -2.08 L382.87 -1.38 L382.87 -0.69 L381.94 0 L379.14 0M386.27 -6 L386.27 0M385.34 -6 L386.74 -6M385.34 0 L387.67 0M393.91 -4.15 L393.91 0 L394.84 0M393.91 -3.23 L392.97 -4.15 L391.1 -4.15 L390.17 -3.23 L390.17 -0.92 L391.1 0 L392.97 0 L393.91 -0.92M403.34 -4.15 L403.34 0M403.8 -2.77 L404.27 -3.69 L405.2 -4.15 L406.14 -4.15 L406.61 -3.69 L406.61 -3.23 L406.14 -3.23 L406.14 -3.69 L406.61 -3.69M402.4 -4.15 L403.8 -4.15M402.4 0 L404.74 0M411.87 -2.31 L408.14 -2.31M411.87 -2.31 L411.87 -3.23 L410.94 -4.15 L409.07 -4.15 L408.14 -3.23 L408.14 -0.92 L409.07 0 L411.87 0M415.27 -6 L415.27 0M414.34 -6 L415.74 -6M414.34 0 L416.67 0M422.91 -4.15 L422.91 0 L423.84 0M422.91 -3.23 L421.97 -4.15 L420.1 -4.15 L419.17 -3.23 L419.17 -0.92 L420.1 0 L421.97 0 L422.91 -0.92M426.3 -6 L426.3 -0.92 L427.24 0 L428.17 0 L428.64 -0.46 L428.64 -0.92M425.37 -4.15 L428.17 -4.15M434.37 -2.31 L430.64 -2.31M434.37 -2.31 L434.37 -3.23 L433.44 -4.15 L431.57 -4.15 L430.64 -3.23 L430.64 -0.92 L431.57 0 L434.37 0M440.67 -6 L440.67 0M440.2 -3.69 L439.27 -4.15 L438.34 -4.15 L437.4 -3.69 L436.94 -2.77 L436.94 -1.38 L437.4 -0.46 L438.34 0 L439.27 0 L440.2 -0.46M439.74 -6 L441.14 -6M440.67 0 L442.07 0M450.5 -5.77 L450.5 -5.77M450.27 -4.15 L450.27 0M449.34 -4.15 L450.74 -4.15M449.34 0 L451.67 0M454.4 -4.15 L454.4 0M454.87 -2.77 L455.34 -3.69 L456.27 -4.15 L457.2 -4.15 L458.14 -3.69 L458.61 -2.77 L458.61 0M453.47 -4.15 L454.87 -4.15M453.47 0 L455.38 0M457.63 0 L459.54 0M464.44 -6 L464.91 -5.54 L464.91 -5.08 L465.37 -5.08 L465.37 -5.54 L464.44 -6 L463.5 -6 L462.57 -5.08 L462.57 0M461.64 -4.15 L463.97 -4.15M461.64 0 L463.97 0M468.3 -4.15 L469.7 -4.15 L470.87 -3.14 L470.87 -1.02 L469.7 0 L468.3 0 L467.14 -1.02 L467.14 -3.14 L468.3 -4.15M473.84 -4.15 L473.84 0M474.3 -2.77 L474.77 -3.69 L475.7 -4.15 L476.64 -4.15 L477.11 -3.69 L477.11 -3.23 L476.64 -3.23 L476.64 -3.69 L477.11 -3.69M472.9 -4.15 L474.3 -4.15M472.9 0 L475.24 0M479.53 -4.15 L479.53 0M480 -2.77 L480.47 -3.69 L481.4 -4.15 L482.34 -4.15 L483.27 -3.69 L483.74 -2.77 L483.74 0M483.74 -2.77 L484.2 -3.69 L485.14 -4.15 L486.07 -4.15 L487.01 -3.69 L487.47 -2.77 L487.47 0M478.6 -4.15 L480 -4.15M478.6 0 L480.94 0M482.34 0 L484.67 0M486.07 0 L488.41 0M494.91 -4.15 L494.91 0 L495.84 0M494.91 -3.23 L493.97 -4.15 L492.1 -4.15 L491.17 -3.23 L491.17 -0.92 L492.1 0 L493.97 0 L494.91 -0.92M498.3 -6 L498.3 -0.92 L499.24 0 L500.17 0 L500.64 -0.46 L500.64 -0.92M497.37 -4.15 L500.17 -4.15M504 -5.77 L504 -5.77M503.77 -4.15 L503.77 0M502.84 -4.15 L504.24 -4.15M502.84 0 L505.17 0M508.3 -4.15 L509.7 -4.15 L510.87 -3.14 L510.87 -1.02 L509.7 0 L508.3 0 L507.14 -1.02 L507.14 -3.14 L508.3 -4.15M513.9 -4.15 L513.9 0M514.37 -2.77 L514.84 -3.69 L515.77 -4.15 L516.7 -4.15 L517.64 -3.69 L518.11 -2.77 L518.11 0M512.97 -4.15 L514.37 -4.15M512.97 0 L514.88 0M517.13 0 L519.04 0"/><text class="t" lengthAdjust="spacingAndGlyphs" x="0.93" font-size="10.61" textLength="518">ftp.funet.fi : /pub/sci/electrical/tesla - the place for Nikola Tesla related information</text></g>
<g transform="translate(280.92 393.5)"><path d="M1.69 -8 L3.42 0M5.15 -8 L3.42 0M5.15 -8 L6.87 0M8.6 -8 L6.87 0M0.54 -8 L3.42 -8M7.45 -8 L9.76 -8M14.65 -8 L11.77 0M14.65 -6.15 L16.95 0M12.92 -2.46 L15.8 -2.46M10.61 0 L13.49 0M15.8 0 L18.68 0M20.84 -8 L20.84 0M19.69 -8 L23.72 -8 L25.45 -7.38 L26.03 -6.15 L26.03 -5.54 L25.45 -4.31 L23.72 -3.69 L21.42 -3.69M19.69 0 L22.57 0M23.72 -3.69 L24.3 -3.08 L24.87 -0.62 L25.45 0 L26.03 0 L26.6 -0.62M29.84 -8 L29.84 0M30.42 -6.77 L34.45 0M34.45 -8 L34.45 0M28.69 -8 L30.42 -8M33.3 -8 L35.6 -8M28.69 0 L30.99 0M39.36 -8 L39.36 0M38.21 -8 L41.09 -8M38.21 0 L41.09 0M44.34 -8 L44.34 0M44.92 -6.77 L48.95 0M48.95 -8 L48.95 0M43.19 -8 L44.92 -8M47.8 -8 L50.1 -8M43.19 0 L45.49 0M57.87 -7.38 L58.45 -8 L58.45 -5.54 L57.87 -7.38 L56.72 -8 L54.99 -8 L53.84 -7.38 L53.27 -6.77 L52.69 -4.92 L52.69 -3.08 L53.27 -1.23 L53.84 -0.62 L54.99 0 L56.72 0 L57.87 -0.62M57.3 -0.62 L57.87 -1.85M57.87 -3.08 L57.87 0M56.72 -3.08 L59.6 -3.08M71.65 -8 L71.65 -2.46M71.65 -0.31 L71.65 -0.31M79.65 -8 L79.65 -2.46M79.65 -0.31 L79.65 -0.31M87.65 -8 L87.65 -2.46M87.65 -0.31 L87.65 -0.31"/><text class="t" lengthAdjust="spacingAndGlyphs" x="0.58" font-size="13.64" textLength="87">WARNING !!!</text></g>
<g transform="translate(280.42 409.5)"><path d="M3.88 -8 L3.88 0M1.72 -8 L1.18 -5.54 L1.18 -8 L7.11 -8 L7.11 -5.54 L6.57 -8M2.8 0 L5.49 0M10.22 -8 L10.22 0M10.76 -3.69 L11.3 -4.92 L12.38 -5.54 L13.46 -5.54 L14.53 -4.92 L15.07 -3.69 L15.07 0M9.15 -8 L10.76 -8M9.15 0 L11.35 0M13.94 0 L16.15 0M19.65 -7.69 L19.65 -7.69M19.38 -5.54 L19.38 0M18.3 -5.54 L19.92 -5.54M18.3 0 L20.99 0M27.3 -5.54 L24.07 -5.54 L22.99 -4.62 L22.99 -3.69 L24.07 -2.77 L26.23 -2.77 L27.3 -1.85 L27.3 -0.92 L26.23 0 L22.99 0M40.99 -8 L40.99 0M40.46 -4.92 L39.38 -5.54 L38.3 -5.54 L37.22 -4.92 L36.68 -3.69 L36.68 -1.85 L37.22 -0.62 L38.3 0 L39.38 0 L40.46 -0.62M39.92 -8 L41.53 -8M40.99 0 L42.61 0M49.3 -3.08 L44.99 -3.08M49.3 -3.08 L49.3 -4.31 L48.23 -5.54 L46.07 -5.54 L44.99 -4.31 L44.99 -1.23 L46.07 0 L49.3 0M52.49 -5.54 L54.65 0M56.8 -5.54 L54.65 0M51.41 -5.54 L53.62 -5.54M56.21 -5.54 L57.88 -5.54M60.65 -7.69 L60.65 -7.69M60.38 -5.54 L60.38 0M59.3 -5.54 L60.92 -5.54M59.3 0 L61.99 0M68.3 -4.31 L67.76 -4.31 L67.76 -3.69 L68.3 -3.69 L68.3 -4.31 L67.76 -4.92 L66.69 -5.54 L65.61 -5.54 L64.53 -4.92 L63.99 -3.69 L63.99 -1.85 L64.53 -0.62 L65.61 0 L66.69 0 L67.76 -0.62 L68.3 -1.23M74.8 -3.08 L70.49 -3.08M74.8 -3.08 L74.8 -4.31 L73.73 -5.54 L71.57 -5.54 L70.49 -4.31 L70.49 -1.23 L71.57 0 L74.8 0M85.65 -7.69 L85.65 -7.69M85.38 -5.54 L85.38 0M84.3 -5.54 L85.92 -5.54M84.3 0 L86.99 0M90.22 -5.54 L90.22 0M90.76 -3.69 L91.3 -4.92 L92.38 -5.54 L93.46 -5.54 L94.53 -4.92 L95.07 -3.69 L95.07 0M89.15 -5.54 L90.76 -5.54M89.15 0 L91.35 0M93.94 0 L96.15 0M102.49 -8 L102.49 0M101.96 -4.92 L100.88 -5.54 L99.8 -5.54 L98.72 -4.92 L98.18 -3.69 L98.18 -1.85 L98.72 -0.62 L99.8 0 L100.88 0 L101.96 -0.62M101.42 -8 L103.03 -8M102.49 0 L104.11 0M107.22 -5.54 L107.22 -1.85 L107.76 -0.62 L108.84 0 L109.92 0 L110.99 -0.62 L111.53 -1.85M111.53 -5.54 L111.53 0M106.15 -5.54 L107.76 -5.54M110.46 -5.54 L112.07 -5.54M111.53 0 L113.15 0M119.8 -4.31 L119.26 -4.31 L119.26 -3.69 L119.8 -3.69 L119.8 -4.31 L119.26 -4.92 L118.19 -5.54 L117.11 -5.54 L116.03 -4.92 L115.49 -3.69 L115.49 -1.85 L116.03 -0.62 L117.11 0 L118.19 0 L119.26 -0.62 L119.8 -1.23M126.3 -3.08 L121.99 -3.08M126.3 -3.08 L126.3 -4.31 L125.23 -5.54 L123.07 -5.54 L121.99 -4.31 L121.99 -1.23 L123.07 0 L126.3 0M133.3 -5.54 L130.07 -5.54 L128.99 -4.62 L128.99 -3.69 L130.07 -2.77 L132.23 -2.77 L133.3 -1.85 L133.3 -0.92 L132.23 0 L128.99 0M143.22 -8 L143.22 0M143.76 -3.69 L144.3 -4.92 L145.38 -5.54 L146.46 -5.54 L147.53 -4.92 L148.07 -3.69 L148.07 0M142.15 -8 L143.76 -8M142.15 0 L144.35 0M146.94 0 L149.15 0M152.65 -7.69 L152.65 -7.69M152.38 -5.54 L152.38 0M151.3 -5.54 L152.92 -5.54M151.3 0 L153.99 0M157.84 -5.54 L156.76 -4.31 L156.76 -3.08 L157.84 -1.85 L158.92 -1.85 L159.99 -3.08 L159.99 -4.31 L158.92 -5.54 L157.84 -5.54M159.99 -4.92 L160.53 -5.54 L161.34 -5.54M157.3 -2.15 L156.49 -1.23 L156.76 -0.31 L157.57 0 L159.46 0 L160.53 0.62 L161.07 1.54 L160.8 2.46 L159.73 3.08 L157.3 3.08 L156.22 2.46 L155.95 1.54 L156.49 0.62 L157.57 0M164.22 -8 L164.22 0M164.76 -3.69 L165.3 -4.92 L166.38 -5.54 L167.46 -5.54 L168.53 -4.92 L169.07 -3.69 L169.07 0M163.15 -8 L164.76 -8M163.15 0 L165.35 0M167.94 0 L170.15 0M179.49 -5.54 L181.65 0M183.8 -5.54 L181.65 0M178.41 -5.54 L180.62 -5.54M183.21 -5.54 L184.88 -5.54M188.34 -5.54 L189.96 -5.54 L191.3 -4.18 L191.3 -1.35 L189.96 0 L188.34 0 L186.99 -1.35 L186.99 -4.18 L188.34 -5.54M194.38 -8 L194.38 0M193.3 -8 L194.92 -8M193.3 0 L195.99 0M199.34 -8 L199.34 -1.23 L200.42 0 L201.49 0 L202.03 -0.62 L202.03 -1.23M198.26 -5.54 L201.49 -5.54M205.8 -5.54 L205.26 -4.92 L205.26 -4.31 L204.72 -4.31 L204.72 -4.92 L205.8 -5.54 L207.42 -5.54 L208.49 -4.31 L208.49 -0.62 L209.03 0 L209.57 0M207.96 -3.69 L206.34 -3.08 L205.26 -2.46 L204.72 -1.85 L204.72 -0.62 L205.26 0 L206.88 0 L207.42 -0.62 L207.96 -1.85M213.34 -5.54 L212.26 -4.31 L212.26 -3.08 L213.34 -1.85 L214.42 -1.85 L215.49 -3.08 L215.49 -4.31 L214.42 -5.54 L213.34 -5.54M215.49 -4.92 L216.03 -5.54 L216.84 -5.54M212.8 -2.15 L211.99 -1.23 L212.26 -0.31 L213.07 0 L214.96 0 L216.03 0.62 L216.57 1.54 L216.3 2.46 L215.23 3.08 L212.8 3.08 L211.72 2.46 L211.45 1.54 L211.99 0.62 L213.07 0M223.3 -3.08 L218.99 -3.08M223.3 -3.08 L223.3 -4.31 L222.23 -5.54 L220.07 -5.54 L218.99 -4.31 L218.99 -1.23 L220.07 0 L223.3 0M230.3 -5.54 L227.07 -5.54 L225.99 -4.62 L225.99 -3.69 L227.07 -2.77 L229.23 -2.77 L230.3 -1.85 L230.3 -0.92 L229.23 0 L225.99 0"/><text class="t" lengthAdjust="spacingAndGlyphs" x="1.08" font-size="13.64" textLength="229">This device induces high voltages</text></g>
<g transform="translate(280.45 425.5)"><path d="M5.22 -4.31 L4.7 -4.31 L4.7 -3.69 L5.22 -3.69 L5.22 -4.31 L4.7 -4.92 L3.65 -5.54 L2.6 -5.54 L1.54 -4.92 L1.02 -3.69 L1.02 -1.85 L1.54 -0.62 L2.6 0 L3.65 0 L4.7 -0.62 L5.22 -1.23M8.81 -5.54 L8.28 -4.92 L8.28 -4.31 L7.76 -4.31 L7.76 -4.92 L8.81 -5.54 L10.38 -5.54 L11.43 -4.31 L11.43 -0.62 L11.96 0 L12.49 0M10.91 -3.69 L9.33 -3.08 L8.28 -2.46 L7.76 -1.85 L7.76 -0.62 L8.28 0 L9.86 0 L10.38 -0.62 L10.91 -1.85M15.78 -5.54 L15.78 2.46M16.31 -3.69 L16.83 -4.92 L17.88 -5.54 L18.93 -5.54 L19.99 -4.92 L20.51 -3.69 L20.51 -1.85 L19.99 -0.62 L18.93 0 L17.88 0 L16.83 -0.62 L16.31 -1.85M14.73 -5.54 L16.31 -5.54M14.73 2.46 L17.36 2.46M24.31 -5.54 L23.78 -4.92 L23.78 -4.31 L23.26 -4.31 L23.26 -4.92 L24.31 -5.54 L25.88 -5.54 L26.93 -4.31 L26.93 -0.62 L27.46 0 L27.99 0M26.41 -3.69 L24.83 -3.08 L23.78 -2.46 L23.26 -1.85 L23.26 -0.62 L23.78 0 L25.36 0 L25.88 -0.62 L26.41 -1.85M31.28 -8 L31.28 0M31.81 -3.69 L32.33 -4.92 L33.38 -5.54 L34.43 -5.54 L35.49 -4.92 L36.01 -3.69 L36.01 -1.85 L35.49 -0.62 L34.43 0 L33.38 0 L32.33 -0.62 L31.81 -1.85M30.23 -8 L31.81 -8M38.86 -8 L38.86 0M37.81 -8 L39.38 -8M37.81 0 L40.43 0M46.72 -3.08 L42.52 -3.08M46.72 -3.08 L46.72 -4.31 L45.67 -5.54 L43.57 -5.54 L42.52 -4.31 L42.52 -1.23 L43.57 0 L46.72 0M57.33 -5.54 L58.91 -5.54 L60.22 -4.18 L60.22 -1.35 L58.91 0 L57.33 0 L56.02 -1.35 L56.02 -4.18 L57.33 -5.54M65.67 -8 L66.2 -7.38 L66.2 -6.77 L66.72 -6.77 L66.72 -7.38 L65.67 -8 L64.62 -8 L63.57 -6.77 L63.57 0M62.52 -5.54 L65.15 -5.54M62.52 0 L65.15 0M75.76 -8 L75.76 0M80.49 -5.54 L76.28 -1.85M77.86 -3.08 L79.96 0M74.71 -8 L76.28 -8M78.91 -5.54 L81.54 -5.54M74.71 0 L76.86 0M79.38 0 L81.54 0M84.62 -7.69 L84.62 -7.69M84.36 -5.54 L84.36 0M83.31 -5.54 L84.88 -5.54M83.31 0 L85.93 0M88.86 -8 L88.86 0M87.81 -8 L89.38 -8M87.81 0 L90.43 0M93.36 -8 L93.36 0M92.31 -8 L93.88 -8M92.31 0 L94.93 0M98.62 -7.69 L98.62 -7.69M98.36 -5.54 L98.36 0M97.31 -5.54 L98.88 -5.54M97.31 0 L99.93 0M103.26 -5.54 L103.26 0M103.78 -3.69 L104.31 -4.92 L105.36 -5.54 L106.41 -5.54 L107.46 -4.92 L107.99 -3.69 L107.99 0M102.21 -5.54 L103.78 -5.54M102.21 0 L104.36 0M106.88 0 L109.04 0M112.33 -5.54 L111.28 -4.31 L111.28 -3.08 L112.33 -1.85 L113.38 -1.85 L114.43 -3.08 L114.43 -4.31 L113.38 -5.54 L112.33 -5.54M114.43 -4.92 L114.96 -5.54 L115.75 -5.54M111.81 -2.15 L111.02 -1.23 L111.28 -0.31 L112.07 0 L113.91 0 L114.96 0.62 L115.49 1.54 L115.22 2.46 L114.17 3.08 L111.81 3.08 L110.76 2.46 L110.49 1.54 L111.02 0.62 L112.07 0M125.62 -7.69 L125.62 -7.69M125.36 -5.54 L125.36 0M124.31 -5.54 L125.88 -5.54M124.31 0 L126.93 0M132.17 -8 L132.7 -7.38 L132.7 -6.77 L133.22 -6.77 L133.22 -7.38 L132.17 -8 L131.12 -8 L130.07 -6.77 L130.07 0M129.02 -5.54 L131.65 -5.54M129.02 0 L131.65 0M141.76 -5.54 L141.76 0M142.28 -3.69 L142.81 -4.92 L143.86 -5.54 L144.91 -5.54 L145.96 -4.92 L146.49 -3.69 L146.49 0M140.71 -5.54 L142.28 -5.54M140.71 0 L142.86 0M145.38 0 L147.54 0M151.33 -5.54 L152.91 -5.54 L154.22 -4.18 L154.22 -1.35 L152.91 0 L151.33 0 L150.02 -1.35 L150.02 -4.18 L151.33 -5.54M157.83 -8 L157.83 -1.23 L158.88 0 L159.93 0 L160.46 -0.62 L160.46 -1.23M156.78 -5.54 L159.93 -5.54M169.76 -5.54 L169.76 -1.85 L170.28 -0.62 L171.33 0 L172.38 0 L173.43 -0.62 L173.96 -1.85M173.96 -5.54 L173.96 0M168.71 -5.54 L170.28 -5.54M172.91 -5.54 L174.49 -5.54M173.96 0 L175.54 0M181.72 -5.54 L178.57 -5.54 L177.52 -4.62 L177.52 -3.69 L178.57 -2.77 L180.67 -2.77 L181.72 -1.85 L181.72 -0.92 L180.67 0 L177.52 0M188.72 -3.08 L184.52 -3.08M188.72 -3.08 L188.72 -4.31 L187.67 -5.54 L185.57 -5.54 L184.52 -4.31 L184.52 -1.23 L185.57 0 L188.72 0M195.43 -8 L195.43 0M194.91 -4.92 L193.86 -5.54 L192.81 -5.54 L191.76 -4.92 L191.23 -3.69 L191.23 -1.85 L191.76 -0.62 L192.81 0 L193.86 0 L194.91 -0.62M194.38 -8 L195.96 -8M195.43 0 L197.01 0"/><text class="t" lengthAdjust="spacingAndGlyphs" x="1.05" font-size="13.64" textLength="196">capable of killing if not used</text></g>
<g transform="translate(280.39 441.5)"><path d="M2.24 -5.54 L2.24 2.46M2.79 -3.69 L3.35 -4.92 L4.46 -5.54 L5.57 -5.54 L6.68 -4.92 L7.24 -3.69 L7.24 -1.85 L6.68 -0.62 L5.57 0 L4.46 0 L3.35 -0.62 L2.79 -1.85M1.13 -5.54 L2.79 -5.54M1.13 2.46 L3.9 2.46M10.79 -5.54 L10.79 0M11.35 -3.69 L11.9 -4.92 L13.01 -5.54 L14.13 -5.54 L14.68 -4.92 L14.68 -4.31 L14.13 -4.31 L14.13 -4.92 L14.68 -4.92M9.68 -5.54 L11.35 -5.54M9.68 0 L12.46 0M18.35 -5.54 L20.01 -5.54 L21.4 -4.18 L21.4 -1.35 L20.01 0 L18.35 0 L16.96 -1.35 L16.96 -4.18 L18.35 -5.54M25.24 -5.54 L25.24 2.46M25.79 -3.69 L26.35 -4.92 L27.46 -5.54 L28.57 -5.54 L29.68 -4.92 L30.24 -3.69 L30.24 -1.85 L29.68 -0.62 L28.57 0 L27.46 0 L26.35 -0.62 L25.79 -1.85M24.13 -5.54 L25.79 -5.54M24.13 2.46 L26.9 2.46M36.9 -3.08 L32.46 -3.08M36.9 -3.08 L36.9 -4.31 L35.79 -5.54 L33.57 -5.54 L32.46 -4.31 L32.46 -1.23 L33.57 0 L36.9 0M40.79 -5.54 L40.79 0M41.35 -3.69 L41.9 -4.92 L43.01 -5.54 L44.13 -5.54 L44.68 -4.92 L44.68 -4.31 L44.13 -4.31 L44.13 -4.92 L44.68 -4.92M39.68 -5.54 L41.35 -5.54M39.68 0 L42.46 0M47.9 -8 L47.9 0M46.79 -8 L48.46 -8M46.79 0 L49.57 0M52.46 -5.54 L54.68 0M56.9 -5.54 L54.68 0 L53.57 1.85 L52.46 2.46 L51.9 2.46 L51.35 1.85 L51.35 1.23 L51.9 1.23 L51.9 1.85 L51.35 1.85M51.35 -5.54 L53.63 -5.54M56.29 -5.54 L58.01 -5.54M67.79 -5.54 L67.24 -4.92 L67.24 -4.31 L66.68 -4.31 L66.68 -4.92 L67.79 -5.54 L69.46 -5.54 L70.57 -4.31 L70.57 -0.62 L71.13 0 L71.68 0M70.01 -3.69 L68.35 -3.08 L67.24 -2.46 L66.68 -1.85 L66.68 -0.62 L67.24 0 L68.9 0 L69.46 -0.62 L70.01 -1.85M75.18 -5.54 L75.18 0M75.74 -3.69 L76.29 -4.92 L77.4 -5.54 L78.51 -5.54 L79.63 -4.92 L80.18 -3.69 L80.18 0M74.07 -5.54 L75.74 -5.54M74.07 0 L76.35 0M79.01 0 L81.29 0M88.07 -8 L88.07 0M87.51 -4.92 L86.4 -5.54 L85.29 -5.54 L84.18 -4.92 L83.63 -3.69 L83.63 -1.85 L84.18 -0.62 L85.29 0 L86.4 0 L87.51 -0.62M86.96 -8 L88.63 -8M88.07 0 L89.74 0M102.9 -4.31 L102.35 -4.31 L102.35 -3.69 L102.9 -3.69 L102.9 -4.31 L102.35 -4.92 L101.24 -5.54 L100.13 -5.54 L99.01 -4.92 L98.46 -3.69 L98.46 -1.85 L99.01 -0.62 L100.13 0 L101.24 0 L102.35 -0.62 L102.9 -1.23M106.79 -5.54 L106.24 -4.92 L106.24 -4.31 L105.68 -4.31 L105.68 -4.92 L106.79 -5.54 L108.46 -5.54 L109.57 -4.31 L109.57 -0.62 L110.13 0 L110.68 0M109.01 -3.69 L107.35 -3.08 L106.24 -2.46 L105.68 -1.85 L105.68 -0.62 L106.24 0 L107.9 0 L108.46 -0.62 L109.01 -1.85M113.79 -5.54 L113.79 0M114.35 -3.69 L114.9 -4.92 L116.01 -5.54 L117.13 -5.54 L117.68 -4.92 L117.68 -4.31 L117.13 -4.31 L117.13 -4.92 L117.68 -4.92M112.68 -5.54 L114.35 -5.54M112.68 0 L115.46 0M124.4 -3.08 L119.96 -3.08M124.4 -3.08 L124.4 -4.31 L123.29 -5.54 L121.07 -5.54 L119.96 -4.31 L119.96 -1.23 L121.07 0 L124.4 0M130.79 -8 L131.35 -7.38 L131.35 -6.77 L131.9 -6.77 L131.9 -7.38 L130.79 -8 L129.68 -8 L128.57 -6.77 L128.57 0M127.46 -5.54 L130.24 -5.54M127.46 0 L130.24 0M134.68 -5.54 L134.68 -1.85 L135.24 -0.62 L136.35 0 L137.46 0 L138.57 -0.62 L139.13 -1.85M139.13 -5.54 L139.13 0M133.57 -5.54 L135.24 -5.54M138.01 -5.54 L139.68 -5.54M139.13 0 L140.79 0M143.9 -8 L143.9 0M142.79 -8 L144.46 -8M142.79 0 L145.57 0M148.9 -8 L148.9 0M147.79 -8 L149.46 -8M147.79 0 L150.57 0M153.46 -5.54 L155.68 0M157.9 -5.54 L155.68 0 L154.57 1.85 L153.46 2.46 L152.9 2.46 L152.35 1.85 L152.35 1.23 L152.9 1.23 L152.9 1.85 L152.35 1.85M152.35 -5.54 L154.63 -5.54M157.29 -5.54 L159.01 -5.54M160.68 -0.25 L160.68 -0.25M166.18 -0.25 L166.18 -0.25"/><text class="t" lengthAdjust="spacingAndGlyphs" x="1.11" font-size="13.64" textLength="165">properly and carefully..</text></g>
<g transform="translate(534.47 69.5)"><path d="M2.28 -6 L2.28 0M6.41 -6 L6.41 0M1.24 -6 L3.36 -6M5.85 -6 L7.97 -6M2.79 -3.23 L6.41 -3.23M1.24 0 L3.36 0M5.85 0 L7.97 0M10.02 -6 L12.6 0M15.19 -6 L12.6 0M8.98 -6 L11.57 -6M13.64 -6 L16.23 -6"/><text class="t" lengthAdjust="spacingAndGlyphs" x="1.03" font-size="10.61" textLength="15">HV</text></g>
<g transform="translate(364.25 114.5)"><path d="M4.05 0 L4.05 -6 L1.56 -1.85 L5.07 -1.85M3.55 -4.85 L3.55 -1.85M3.04 0 L4.98 0M7.74 -6 L7.74 0M11.89 -4.15 L8.2 -1.38M9.59 -2.31 L11.43 0M6.82 -6 L8.2 -6M10.51 -4.15 L12.82 -4.15M6.82 0 L8.71 0M10.92 0 L12.82 0M14.79 -4.98 L14.79 -6 L17.84 -6 L16.04 0"/><text class="t" lengthAdjust="spacingAndGlyphs" x="1.25" font-size="10.61" textLength="16.66">4k7</text></g>
<g transform="translate(428.59 114.5)"><path d="M3.48 -4.75 L3.48 -0.78M1.18 -2.77 L5.79 -2.77M9.03 -4.85 L10.48 -6 L10.48 0M9.03 0 L11.93 0M15.16 -4.89 L15.16 -5.17 L16.18 -6 L17.68 -6 L18.7 -5.17 L18.7 -4.25 L15.16 0 L18.81 0 L18.81 -0.74M21.3 -6 L23.98 0M26.66 -6 L23.98 0M20.23 -6 L22.91 -6M25.05 -6 L27.74 -6M30.34 -6 L30.34 0M29.26 -6 L33.02 -6 L34.63 -5.54 L35.16 -5.08 L35.7 -3.69 L35.7 -2.31 L35.16 -0.92 L34.63 -0.46 L33.02 0 L29.26 0M42.63 -5.54 L43.16 -6 L43.16 -4.15 L42.63 -5.54 L41.55 -6 L39.95 -6 L38.87 -5.54 L38.34 -5.08 L37.8 -3.69 L37.8 -2.31 L38.34 -0.92 L38.87 -0.46 L39.95 0 L41.55 0 L42.63 -0.46 L43.16 -1.38"/><text class="t" lengthAdjust="spacingAndGlyphs" x="0.91" font-size="10.61" textLength="42">+12VDC</text></g>
<g transform="translate(438.51 148.5)"><path d="M1.83 -4.15 L1.83 1.85M2.32 -2.77 L2.82 -3.69 L3.81 -4.15 L4.8 -4.15 L5.79 -3.69 L6.28 -2.77 L6.28 -1.38 L5.79 -0.46 L4.8 0 L3.81 0 L2.82 -0.46 L2.32 -1.38M0.84 -4.15 L2.32 -4.15M0.84 1.85 L3.31 1.85M9.32 -4.15 L9.32 0M9.82 -2.77 L10.31 -3.69 L11.3 -4.15 L12.29 -4.15 L12.79 -3.69 L12.79 -3.23 L12.29 -3.23 L12.29 -3.69 L12.79 -3.69M8.33 -4.15 L9.82 -4.15M8.33 0 L10.81 0M16.06 -5.77 L16.06 -5.77M15.81 -4.15 L15.81 0M14.82 -4.15 L16.31 -4.15M14.82 0 L17.3 0M20.35 -4.15 L20.35 0M20.85 -2.77 L21.34 -3.69 L22.33 -4.15 L23.32 -4.15 L24.31 -3.69 L24.81 -2.77 L24.81 0M24.81 -2.77 L25.3 -3.69 L26.29 -4.15 L27.28 -4.15 L28.27 -3.69 L28.77 -2.77 L28.77 0M19.36 -4.15 L20.85 -4.15M19.36 0 L21.84 0M23.32 0 L25.8 0M27.28 0 L29.76 0M36.05 -4.15 L36.05 0 L37.04 0M36.05 -3.23 L35.06 -4.15 L33.07 -4.15 L32.08 -3.23 L32.08 -0.92 L33.07 0 L35.06 0 L36.05 -0.92M40.32 -4.15 L40.32 0M40.82 -2.77 L41.31 -3.69 L42.3 -4.15 L43.29 -4.15 L43.79 -3.69 L43.79 -3.23 L43.29 -3.23 L43.29 -3.69 L43.79 -3.69M39.33 -4.15 L40.82 -4.15M39.33 0 L41.81 0M46.08 -4.15 L48.06 0M50.04 -4.15 L48.06 0 L47.07 1.38 L46.08 1.85 L45.58 1.85 L45.09 1.38 L45.09 0.92 L45.58 0.92 L45.58 1.38 L45.09 1.38M45.09 -4.15 L47.12 -4.15M49.5 -4.15 L51.03 -4.15"/><text class="t" lengthAdjust="spacingAndGlyphs" x="0.99" font-size="10.61" textLength="50">primary</text></g>
<g transform="translate(438.43 159.5)"><path d="M2.34 -4.85 L3.64 -6 L3.64 0M2.34 0 L4.94 0M9.02 -6 L10.27 -6 L11.23 -5.08 L11.23 -0.92 L10.27 0 L9.02 0 L8.05 -0.92 L8.05 -5.08 L9.02 -6M20.42 -6 L20.42 -0.92 L21.38 0 L22.35 0 L22.83 -0.46 L22.83 -0.92M19.46 -4.15 L22.35 -4.15M25.47 -4.15 L25.47 -1.38 L25.96 -0.46 L26.92 0 L27.88 0 L28.85 -0.46 L29.33 -1.38M29.33 -4.15 L29.33 0M24.51 -4.15 L25.96 -4.15M28.36 -4.15 L29.81 -4.15M29.33 0 L30.77 0M33.94 -4.15 L33.94 0M34.42 -2.77 L34.9 -3.69 L35.86 -4.15 L36.83 -4.15 L37.31 -3.69 L37.31 -3.23 L36.83 -3.23 L36.83 -3.69 L37.31 -3.69M32.97 -4.15 L34.42 -4.15M32.97 0 L35.38 0M39.97 -4.15 L39.97 0M40.46 -2.77 L40.94 -3.69 L41.9 -4.15 L42.86 -4.15 L43.83 -3.69 L44.31 -2.77 L44.31 0M39.01 -4.15 L40.46 -4.15M39.01 0 L40.99 0M43.3 0 L45.27 0M51.07 -4.15 L48.18 -4.15 L47.21 -3.46 L47.21 -2.77 L48.18 -2.08 L50.11 -2.08 L51.07 -1.38 L51.07 -0.69 L50.11 0 L47.21 0"/><text class="t" lengthAdjust="spacingAndGlyphs" x="2.07" font-size="10.61" textLength="49">10 turns</text></g>
<g transform="translate(438.57 248.5)"><path d="M3.94 -6 L4.41 -5.54 L4.41 -5.08 L4.87 -5.08 L4.87 -5.54 L3.94 -6 L3 -6 L2.07 -5.08 L2.07 0M1.14 -4.15 L3.47 -4.15M1.14 0 L3.47 0M9.87 -2.31 L6.14 -2.31M9.87 -2.31 L9.87 -3.23 L8.94 -4.15 L7.07 -4.15 L6.14 -3.23 L6.14 -0.92 L7.07 0 L9.87 0M15.87 -2.31 L12.14 -2.31M15.87 -2.31 L15.87 -3.23 L14.94 -4.15 L13.07 -4.15 L12.14 -3.23 L12.14 -0.92 L13.07 0 L15.87 0M22.17 -6 L22.17 0M21.71 -3.69 L20.77 -4.15 L19.84 -4.15 L18.9 -3.69 L18.43 -2.77 L18.43 -1.38 L18.9 -0.46 L19.84 0 L20.77 0 L21.71 -0.46M21.24 -6 L22.64 -6M22.17 0 L23.57 0M26.37 -6 L26.37 0M26.84 -2.77 L27.3 -3.69 L28.24 -4.15 L29.17 -4.15 L30.11 -3.69 L30.57 -2.77 L30.57 -1.38 L30.11 -0.46 L29.17 0 L28.24 0 L27.3 -0.46 L26.84 -1.38M25.43 -6 L26.84 -6M36.41 -4.15 L36.41 0 L37.34 0M36.41 -3.23 L35.47 -4.15 L33.6 -4.15 L32.67 -3.23 L32.67 -0.92 L33.6 0 L35.47 0 L36.41 -0.92M42.87 -3.23 L42.41 -3.23 L42.41 -2.77 L42.87 -2.77 L42.87 -3.23 L42.41 -3.69 L41.47 -4.15 L40.54 -4.15 L39.6 -3.69 L39.14 -2.77 L39.14 -1.38 L39.6 -0.46 L40.54 0 L41.47 0 L42.41 -0.46 L42.87 -0.92M45.9 -6 L45.9 0M50.11 -4.15 L46.37 -1.38M47.77 -2.31 L49.64 0M44.97 -6 L46.37 -6M48.71 -4.15 L51.04 -4.15M44.97 0 L46.88 0M49.13 0 L51.04 0"/><text class="t" lengthAdjust="spacingAndGlyphs" x="0.93" font-size="10.61" textLength="50">feedback</text></g>
<g transform="translate(443.93 257.5)"><path d="M2.5 -6 L3.77 -6 L4.61 -5.31 L4.61 -3.92 L3.77 -3.23 L2.5 -3.23 L1.67 -3.92 L1.67 -5.31 L2.5 -6M3.77 -3.23 L4.75 -2.4 L4.75 -0.92 L3.77 0 L2.5 0 L1.52 -0.92 L1.52 -2.4 L2.5 -3.23M14.4 -6 L14.4 -0.92 L15.38 0 L16.36 0 L16.85 -0.46 L16.85 -0.92M13.42 -4.15 L16.36 -4.15M19.43 -4.15 L19.43 -1.38 L19.92 -0.46 L20.9 0 L21.88 0 L22.86 -0.46 L23.35 -1.38M23.35 -4.15 L23.35 0M18.45 -4.15 L19.92 -4.15M22.37 -4.15 L23.84 -4.15M23.35 0 L24.82 0M27.91 -4.15 L27.91 0M28.4 -2.77 L28.89 -3.69 L29.87 -4.15 L30.85 -4.15 L31.34 -3.69 L31.34 -3.23 L30.85 -3.23 L30.85 -3.69 L31.34 -3.69M26.93 -4.15 L28.4 -4.15M26.93 0 L29.38 0M34.43 -4.15 L34.43 0M34.92 -2.77 L35.41 -3.69 L36.39 -4.15 L37.37 -4.15 L38.35 -3.69 L38.84 -2.77 L38.84 0M33.45 -4.15 L34.92 -4.15M33.45 0 L35.46 0M37.81 0 L39.82 0M45.6 -4.15 L42.66 -4.15 L41.68 -3.46 L41.68 -2.77 L42.66 -2.08 L44.62 -2.08 L45.6 -1.38 L45.6 -0.69 L44.62 0 L41.68 0"/><text class="t" lengthAdjust="spacingAndGlyphs" x="1.57" font-size="10.61" textLength="44">8 turns</text></g>
<g transform="translate(402.52 208.5)"><path d="M1.81 -4.85 L3.05 -6 L3.05 0M1.81 0 L4.3 0M7.98 -6 L7.98 0M12.13 -4.15 L8.44 -1.38M9.82 -2.31 L11.67 0M7.05 -6 L8.44 -6M10.75 -4.15 L13.05 -4.15M7.05 0 L8.95 0M11.16 0 L13.05 0"/><text class="t" lengthAdjust="spacingAndGlyphs" x="1.98" font-size="10.61" textLength="10.94">1k</text></g>
<g transform="translate(399.25 250.5)"><path d="M4.05 0 L4.05 -6 L1.56 -1.85 L5.07 -1.85M3.55 -4.85 L3.55 -1.85M3.04 0 L4.98 0M7.74 -4.15 L7.74 0M8.2 -2.77 L8.66 -3.69 L9.59 -4.15 L10.51 -4.15 L11.43 -3.69 L11.89 -2.77 L11.89 0M6.82 -4.15 L8.2 -4.15M6.82 0 L8.71 0M10.92 0 L12.82 0M15.29 -4.98 L15.29 -6 L18.34 -6 L16.54 0"/><text class="t" lengthAdjust="spacingAndGlyphs" x="1.25" font-size="10.61" textLength="17.12">4n7</text></g>
<g transform="translate(229.52 228.5)"><path d="M1.84 -6 L1.84 0M0.86 -6 L4.28 -6 L5.74 -5.54 L6.23 -4.62 L5.74 -3.69 L4.28 -3.23M2.33 -3.23 L4.28 -3.23 L5.74 -2.77 L6.23 -1.85 L6.23 -1.38 L5.74 -0.46 L4.28 0 L0.86 0M9.59 -6 L9.59 0M8.62 -6 L12.03 -6 L13.5 -5.54 L13.99 -5.08 L14.47 -3.69 L14.47 -2.31 L13.99 -0.92 L13.5 -0.46 L12.03 0 L8.62 0M17.35 -6 L21.25 0M21.74 -6 L17.35 0M16.37 -6 L18.37 -6M20.72 -6 L22.72 -6M16.37 0 L18.37 0M20.72 0 L22.72 0M25.41 -6 L26.68 -6 L27.51 -5.31 L27.51 -3.92 L26.68 -3.23 L25.41 -3.23 L24.58 -3.92 L24.58 -5.31 L25.41 -6M26.68 -3.23 L27.66 -2.4 L27.66 -0.92 L26.68 0 L25.41 0 L24.44 -0.92 L24.44 -2.4 L25.41 -3.23M30.94 -4.98 L30.94 -6 L34.16 -6 L32.25 0M37.84 -6 L37.84 0M36.86 -6 L40.28 -6 L41.74 -5.54 L42.23 -4.62 L41.74 -3.69 L40.28 -3.23M38.33 -3.23 L40.28 -3.23 L41.74 -2.77 L42.23 -1.85 L42.23 -1.38 L41.74 -0.46 L40.28 0 L36.86 0"/><text class="t" lengthAdjust="spacingAndGlyphs" x="0.98" font-size="10.61" textLength="41">BDX87B</text></g>
<g transform="translate(266.93 275.5)"><path d="M4.61 -6 L1.82 -6 L1.52 -3.32 L2.45 -3.83 L3.78 -3.83 L4.76 -3 L4.76 -1.11 L3.78 0 L2.5 0 L1.52 -0.83M11.11 -5.35 L10.28 -6 L9 -6 L8.02 -4.89 L8.02 -1.11 L9 0 L10.28 0 L11.26 -1.02 L11.26 -2.31 L10.28 -3.32 L9 -3.32 L8.02 -2.31M15.5 -6 L16.78 -6 L17.76 -5.08 L17.76 -0.92 L16.78 0 L15.5 0 L14.52 -0.92 L14.52 -5.08 L15.5 -6"/><text class="t" lengthAdjust="spacingAndGlyphs" x="1.57" font-size="10.61" textLength="16">560</text></g>
<g transform="translate(334.58 275.5)"><path d="M1.88 -6 L1.88 0M0.95 -6 L4.19 -6 L5.57 -5.54 L6.03 -4.62 L5.57 -3.69 L4.19 -3.23M2.34 -3.23 L4.19 -3.23 L5.57 -2.77 L6.03 -1.85 L6.03 -1.38 L5.57 -0.46 L4.19 0 L0.95 0M12.34 -5.54 L12.8 -6 L12.8 -4.15 L12.34 -5.54 L11.42 -6 L10.03 -6 L9.11 -5.54 L8.65 -5.08 L8.19 -3.69 L8.19 -2.31 L8.65 -0.92 L9.11 -0.46 L10.03 0 L11.42 0 L12.34 -0.46 L12.8 -1.38M18.38 -6 L15.75 -6 L15.47 -3.32 L16.35 -3.83 L17.59 -3.83 L18.52 -3 L18.52 -1.11 L17.59 0 L16.39 0 L15.47 -0.83M23.73 0 L23.73 -6 L21.24 -1.85 L24.75 -1.85M23.22 -4.85 L23.22 -1.85M22.72 0 L24.65 0M27.47 -4.98 L27.47 -6 L30.52 -6 L28.72 0"/><text class="t" lengthAdjust="spacingAndGlyphs" x="0.92" font-size="10.61" textLength="29.45">BC547</text></g>
<g transform="translate(379.44 277.5)"><path d="M2.27 -6 L2.27 0M1.21 -6 L4.93 -6 L6.53 -5.54 L7.06 -4.62 L6.53 -3.69 L4.93 -3.23M2.8 -3.23 L4.93 -3.23 L6.53 -2.77 L7.06 -1.85 L7.06 -1.38 L6.53 -0.46 L4.93 0 L1.21 0M9.74 -6 L11.87 -2.77 L11.87 0M14.53 -6 L12.4 -2.77M8.68 -6 L10.86 -6M13.41 -6 L15.59 -6M10.8 0 L13.46 0M16.48 -6 L19.13 0M21.79 -6 L19.13 0M15.41 -6 L18.07 -6M20.2 -6 L22.85 -6M28.39 -3.69 L27.32 -2.68 L25.94 -2.68 L24.88 -3.69 L24.88 -4.98 L25.94 -6 L27.32 -6 L28.39 -4.89 L28.39 -1.11 L27.32 0 L25.94 0 L25.04 -0.65M34.73 -6 L31.7 -6 L31.38 -3.32 L32.39 -3.83 L33.82 -3.83 L34.89 -3 L34.89 -1.11 L33.82 0 L32.44 0 L31.38 -0.83M42.76 -5.54 L43.29 -6 L43.29 -4.15 L42.76 -5.54 L41.7 -6 L40.1 -6 L39.04 -5.54 L38.51 -5.08 L37.98 -3.69 L37.98 -2.31 L38.51 -0.92 L39.04 -0.46 L40.1 0 L41.7 0 L42.76 -0.46 L43.29 -1.38"/><text class="t" lengthAdjust="spacingAndGlyphs" x="1.06" font-size="10.61" textLength="42">BYV95C</text></g>
<g transform="translate(316.02 323.5)"><path d="M1.48 -4.89 L1.48 -5.17 L2.35 -6 L3.65 -6 L4.52 -5.17 L4.52 -4.25 L1.48 0 L4.62 0 L4.62 -0.74M8.45 -6 L9.65 -6 L10.57 -5.08 L10.57 -0.92 L9.65 0 L8.45 0 L7.52 -0.92 L7.52 -5.08 L8.45 -6M13.97 -6 L13.97 0M18.12 -4.15 L14.43 -1.38M15.82 -2.31 L17.66 0M13.05 -6 L14.43 -6M16.74 -4.15 L19.05 -4.15M13.05 0 L14.94 0M17.15 0 L19.05 0"/><text class="t" lengthAdjust="spacingAndGlyphs" x="1.48" font-size="10.61" textLength="17.45">20k</text></g>
<g transform="translate(316.58 332.5)"><path d="M2.15 -6 L2.15 0M1.22 -6 L4.45 -6 L5.84 -5.54 L6.3 -4.62 L6.3 -4.15 L5.84 -3.23 L4.45 -2.77 L2.61 -2.77M1.22 0 L3.53 0M4.45 -2.77 L4.92 -2.31 L5.38 -0.46 L5.84 0 L6.3 0 L6.76 -0.46M9.25 -4.85 L10.49 -6 L10.49 0M9.25 0 L11.74 0"/><text class="t" lengthAdjust="spacingAndGlyphs" x="0.92" font-size="10.61" textLength="10.94">R1</text></g>
<g transform="translate(211.5 303.02) rotate(90)"><path d="M2.45 -6 L3.65 -6 L4.57 -5.08 L4.57 -0.92 L3.65 0 L2.45 0 L1.52 -0.92 L1.52 -5.08 L2.45 -6M7.05 -0.18 L7.05 -0.18M12.8 -4.85 L14.05 -6 L14.05 0M12.8 0 L15.29 0M18.95 -6 L20.15 -6 L20.93 -5.31 L20.93 -3.92 L20.15 -3.23 L18.95 -3.23 L18.16 -3.92 L18.16 -5.31 L18.95 -6M20.15 -3.23 L21.07 -2.4 L21.07 -0.92 L20.15 0 L18.95 0 L18.02 -0.92 L18.02 -2.4 L18.95 -3.23"/><text class="t" lengthAdjust="spacingAndGlyphs" x="1.48" font-size="10.61" textLength="19.66">0.18</text></g>
<g transform="translate(530.5 143.3) rotate(90)"><path d="M2.55 -4.15 L3.99 -4.15 L5.19 -3.14 L5.19 -1.02 L3.99 0 L2.55 0 L1.35 -1.02 L1.35 -3.14 L2.55 -4.15M8.07 -4.15 L8.07 0M8.55 -2.77 L9.03 -3.69 L9.99 -4.15 L10.95 -4.15 L11.43 -3.69 L11.43 -3.23 L10.95 -3.23 L10.95 -3.69 L11.43 -3.69M7.11 -4.15 L8.55 -4.15M7.11 0 L9.51 0M14.77 -5.77 L14.77 -5.77M14.53 -4.15 L14.53 0M13.57 -4.15 L15.01 -4.15M13.57 0 L15.97 0M19.05 -4.15 L18.09 -3.23 L18.09 -2.31 L19.05 -1.38 L20.01 -1.38 L20.97 -2.31 L20.97 -3.23 L20.01 -4.15 L19.05 -4.15M20.97 -3.69 L21.45 -4.15 L22.17 -4.15M18.57 -1.62 L17.85 -0.92 L18.09 -0.23 L18.81 0 L20.49 0 L21.45 0.46 L21.93 1.15 L21.69 1.85 L20.73 2.31 L18.57 2.31 L17.61 1.85 L17.37 1.15 L17.85 0.46 L18.81 0M25.27 -5.77 L25.27 -5.77M25.03 -4.15 L25.03 0M24.07 -4.15 L25.51 -4.15M24.07 0 L26.47 0M29.11 -4.15 L29.11 0M29.59 -2.77 L30.07 -3.69 L31.03 -4.15 L31.99 -4.15 L32.95 -3.69 L33.43 -2.77 L33.43 0M28.15 -4.15 L29.59 -4.15M28.15 0 L30.12 0M32.42 0 L34.39 0M40.71 -4.15 L40.71 0 L41.67 0M40.71 -3.23 L39.75 -4.15 L37.83 -4.15 L36.87 -3.23 L36.87 -0.92 L37.83 0 L39.75 0 L40.71 -0.92M44.53 -6 L44.53 0M43.57 -6 L45.01 -6M43.57 0 L45.97 0M57.69 -4.15 L54.81 -4.15 L53.85 -3.46 L53.85 -2.77 L54.81 -2.08 L56.73 -2.08 L57.69 -1.38 L57.69 -0.69 L56.73 0 L53.85 0M63.69 -2.31 L59.85 -2.31M63.69 -2.31 L63.69 -3.23 L62.73 -4.15 L60.81 -4.15 L59.85 -3.23 L59.85 -0.92 L60.81 0 L63.69 0M70.19 -3.23 L69.71 -3.23 L69.71 -2.77 L70.19 -2.77 L70.19 -3.23 L69.71 -3.69 L68.75 -4.15 L67.79 -4.15 L66.83 -3.69 L66.35 -2.77 L66.35 -1.38 L66.83 -0.46 L67.79 0 L68.75 0 L69.71 -0.46 L70.19 -0.92M73.55 -4.15 L74.99 -4.15 L76.19 -3.14 L76.19 -1.02 L74.99 0 L73.55 0 L72.35 -1.02 L72.35 -3.14 L73.55 -4.15M79.11 -4.15 L79.11 0M79.59 -2.77 L80.07 -3.69 L81.03 -4.15 L81.99 -4.15 L82.95 -3.69 L83.43 -2.77 L83.43 0M78.15 -4.15 L79.59 -4.15M78.15 0 L80.12 0M82.42 0 L84.39 0M89.97 -6 L89.97 0M89.49 -3.69 L88.53 -4.15 L87.57 -4.15 L86.61 -3.69 L86.13 -2.77 L86.13 -1.38 L86.61 -0.46 L87.57 0 L88.53 0 L89.49 -0.46M89.01 -6 L90.45 -6M89.97 0 L91.41 0M97.71 -4.15 L97.71 0 L98.67 0M97.71 -3.23 L96.75 -4.15 L94.83 -4.15 L93.87 -3.23 L93.87 -0.92 L94.83 0 L96.75 0 L97.71 -0.92M101.57 -4.15 L101.57 0M102.05 -2.77 L102.53 -3.69 L103.49 -4.15 L104.45 -4.15 L104.93 -3.69 L104.93 -3.23 L104.45 -3.23 L104.45 -3.69 L104.93 -3.69M100.61 -4.15 L102.05 -4.15M100.61 0 L103.01 0M107.35 -4.15 L109.27 0M111.19 -4.15 L109.27 0 L108.31 1.38 L107.35 1.85 L106.87 1.85 L106.39 1.38 L106.39 0.92 L106.87 0.92 L106.87 1.38 L106.39 1.38M106.39 -4.15 L108.36 -4.15M110.66 -4.15 L112.15 -4.15"/><text class="t" lengthAdjust="spacingAndGlyphs" x="1.2" font-size="10.61" textLength="111">original secondary</text></g>
</g>
</svg>
</body></html>
